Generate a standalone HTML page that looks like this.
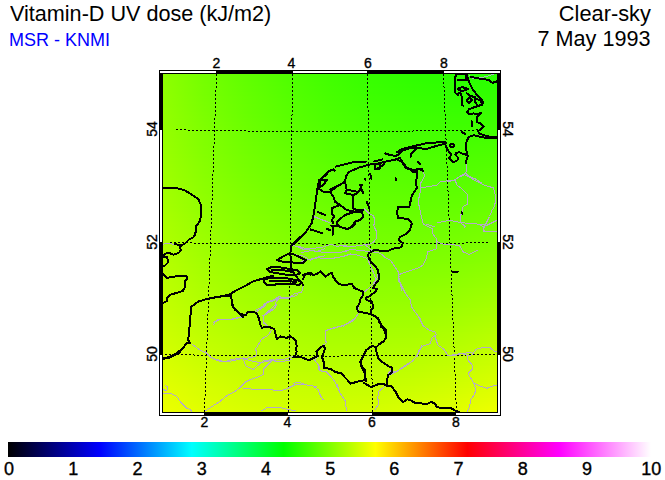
<!DOCTYPE html><html><head><meta charset="utf-8"><style>
*{margin:0;padding:0}
html,body{width:665px;height:480px;background:#fff;overflow:hidden;position:relative;font-family:"Liberation Sans",sans-serif}
.t{position:absolute;white-space:nowrap;line-height:1}
</style></head><body><div class="t" style="left:10px;top:1.5px;font-size:22.7px;color:#000;transform:scaleX(0.952);transform-origin:0 0">Vitamin-D UV dose (kJ/m2)</div><div class="t" style="left:9px;top:31px;font-size:18px;color:#0000ff">MSR - KNMI</div><div class="t" style="right:14px;top:1.5px;font-size:22.7px;color:#000;transform:scaleX(0.96);transform-origin:100% 0">Clear-sky</div><div class="t" style="right:14px;top:27.5px;font-size:22.3px;color:#000;transform:scaleX(0.97);transform-origin:100% 0">7 May 1993</div><div style="position:absolute;left:163px;top:74px;width:334px;height:338px;overflow:hidden"><div style="height:2px;background:linear-gradient(to right,rgb(141,255,0) 0%,rgb(117,255,0) 12%,rgb(96,255,0) 25%,rgb(79,255,0) 38%,rgb(65,255,0) 50%,rgb(54,255,0) 62%,rgb(46,255,0) 75%,rgb(42,255,0) 88%,rgb(41,255,0) 100%)"></div><div style="height:2px;background:linear-gradient(to right,rgb(141,255,0) 0%,rgb(117,255,0) 12%,rgb(97,255,0) 25%,rgb(79,255,0) 38%,rgb(65,255,0) 50%,rgb(54,255,0) 62%,rgb(47,255,0) 75%,rgb(43,255,0) 88%,rgb(42,255,0) 100%)"></div><div style="height:2px;background:linear-gradient(to right,rgb(142,255,0) 0%,rgb(118,255,0) 12%,rgb(97,255,0) 25%,rgb(80,255,0) 38%,rgb(66,255,0) 50%,rgb(55,255,0) 62%,rgb(48,255,0) 75%,rgb(43,255,0) 88%,rgb(43,255,0) 100%)"></div><div style="height:2px;background:linear-gradient(to right,rgb(142,255,0) 0%,rgb(118,255,0) 12%,rgb(97,255,0) 25%,rgb(80,255,0) 38%,rgb(66,255,0) 50%,rgb(56,255,0) 62%,rgb(48,255,0) 75%,rgb(44,255,0) 88%,rgb(44,255,0) 100%)"></div><div style="height:2px;background:linear-gradient(to right,rgb(142,255,0) 0%,rgb(118,255,0) 12%,rgb(98,255,0) 25%,rgb(81,255,0) 38%,rgb(67,255,0) 50%,rgb(56,255,0) 62%,rgb(49,255,0) 75%,rgb(45,255,0) 88%,rgb(44,255,0) 100%)"></div><div style="height:2px;background:linear-gradient(to right,rgb(142,255,0) 0%,rgb(119,255,0) 12%,rgb(98,255,0) 25%,rgb(81,255,0) 38%,rgb(67,255,0) 50%,rgb(57,255,0) 62%,rgb(50,255,0) 75%,rgb(46,255,0) 88%,rgb(45,255,0) 100%)"></div><div style="height:2px;background:linear-gradient(to right,rgb(143,255,0) 0%,rgb(119,255,0) 12%,rgb(99,255,0) 25%,rgb(82,255,0) 38%,rgb(68,255,0) 50%,rgb(57,255,0) 62%,rgb(50,255,0) 75%,rgb(47,255,0) 88%,rgb(46,255,0) 100%)"></div><div style="height:2px;background:linear-gradient(to right,rgb(143,255,0) 0%,rgb(119,255,0) 12%,rgb(99,255,0) 25%,rgb(82,255,0) 38%,rgb(68,255,0) 50%,rgb(58,255,0) 62%,rgb(51,255,0) 75%,rgb(47,255,0) 88%,rgb(47,255,0) 100%)"></div><div style="height:2px;background:linear-gradient(to right,rgb(143,255,0) 0%,rgb(120,255,0) 12%,rgb(99,255,0) 25%,rgb(83,255,0) 38%,rgb(69,255,0) 50%,rgb(59,255,0) 62%,rgb(52,255,0) 75%,rgb(48,255,0) 88%,rgb(48,255,0) 100%)"></div><div style="height:2px;background:linear-gradient(to right,rgb(143,255,0) 0%,rgb(120,255,0) 12%,rgb(100,255,0) 25%,rgb(83,255,0) 38%,rgb(70,255,0) 50%,rgb(59,255,0) 62%,rgb(53,255,0) 75%,rgb(49,255,0) 88%,rgb(49,255,0) 100%)"></div><div style="height:2px;background:linear-gradient(to right,rgb(144,255,0) 0%,rgb(120,255,0) 12%,rgb(100,255,0) 25%,rgb(84,255,0) 38%,rgb(70,255,0) 50%,rgb(60,255,0) 62%,rgb(53,255,0) 75%,rgb(50,255,0) 88%,rgb(50,255,0) 100%)"></div><div style="height:2px;background:linear-gradient(to right,rgb(144,255,0) 0%,rgb(121,255,0) 12%,rgb(101,255,0) 25%,rgb(84,255,0) 38%,rgb(71,255,0) 50%,rgb(61,255,0) 62%,rgb(54,255,0) 75%,rgb(51,255,0) 88%,rgb(51,255,0) 100%)"></div><div style="height:2px;background:linear-gradient(to right,rgb(144,255,0) 0%,rgb(121,255,0) 12%,rgb(101,255,0) 25%,rgb(85,255,0) 38%,rgb(71,255,0) 50%,rgb(61,255,0) 62%,rgb(55,255,0) 75%,rgb(51,255,0) 88%,rgb(51,255,0) 100%)"></div><div style="height:2px;background:linear-gradient(to right,rgb(145,255,0) 0%,rgb(121,255,0) 12%,rgb(102,255,0) 25%,rgb(85,255,0) 38%,rgb(72,255,0) 50%,rgb(62,255,0) 62%,rgb(55,255,0) 75%,rgb(52,255,0) 88%,rgb(52,255,0) 100%)"></div><div style="height:2px;background:linear-gradient(to right,rgb(145,255,0) 0%,rgb(122,255,0) 12%,rgb(102,255,0) 25%,rgb(86,255,0) 38%,rgb(73,255,0) 50%,rgb(63,255,0) 62%,rgb(56,255,0) 75%,rgb(53,255,0) 88%,rgb(53,255,0) 100%)"></div><div style="height:2px;background:linear-gradient(to right,rgb(145,255,0) 0%,rgb(122,255,0) 12%,rgb(103,255,0) 25%,rgb(86,255,0) 38%,rgb(73,255,0) 50%,rgb(63,255,0) 62%,rgb(57,255,0) 75%,rgb(54,255,0) 88%,rgb(54,255,0) 100%)"></div><div style="height:2px;background:linear-gradient(to right,rgb(145,255,0) 0%,rgb(123,255,0) 12%,rgb(103,255,0) 25%,rgb(87,255,0) 38%,rgb(74,255,0) 50%,rgb(64,255,0) 62%,rgb(58,255,0) 75%,rgb(55,255,0) 88%,rgb(55,255,0) 100%)"></div><div style="height:2px;background:linear-gradient(to right,rgb(146,255,0) 0%,rgb(123,255,0) 12%,rgb(103,255,0) 25%,rgb(87,255,0) 38%,rgb(74,255,0) 50%,rgb(65,255,0) 62%,rgb(58,255,0) 75%,rgb(56,255,0) 88%,rgb(56,255,0) 100%)"></div><div style="height:2px;background:linear-gradient(to right,rgb(146,255,0) 0%,rgb(123,255,0) 12%,rgb(104,255,0) 25%,rgb(88,255,0) 38%,rgb(75,255,0) 50%,rgb(65,255,0) 62%,rgb(59,255,0) 75%,rgb(56,255,0) 88%,rgb(57,255,0) 100%)"></div><div style="height:2px;background:linear-gradient(to right,rgb(146,255,0) 0%,rgb(124,255,0) 12%,rgb(104,255,0) 25%,rgb(88,255,0) 38%,rgb(76,255,0) 50%,rgb(66,255,0) 62%,rgb(60,255,0) 75%,rgb(57,255,0) 88%,rgb(58,255,0) 100%)"></div><div style="height:2px;background:linear-gradient(to right,rgb(147,255,0) 0%,rgb(124,255,0) 12%,rgb(105,255,0) 25%,rgb(89,255,0) 38%,rgb(76,255,0) 50%,rgb(67,255,0) 62%,rgb(61,255,0) 75%,rgb(58,255,0) 88%,rgb(59,255,0) 100%)"></div><div style="height:2px;background:linear-gradient(to right,rgb(147,255,0) 0%,rgb(125,255,0) 12%,rgb(105,255,0) 25%,rgb(89,255,0) 38%,rgb(77,255,0) 50%,rgb(68,255,0) 62%,rgb(62,255,0) 75%,rgb(59,255,0) 88%,rgb(60,255,0) 100%)"></div><div style="height:2px;background:linear-gradient(to right,rgb(147,255,0) 0%,rgb(125,255,0) 12%,rgb(106,255,0) 25%,rgb(90,255,0) 38%,rgb(77,255,0) 50%,rgb(68,255,0) 62%,rgb(62,255,0) 75%,rgb(60,255,0) 88%,rgb(61,255,0) 100%)"></div><div style="height:2px;background:linear-gradient(to right,rgb(148,255,0) 0%,rgb(125,255,0) 12%,rgb(106,255,0) 25%,rgb(90,255,0) 38%,rgb(78,255,0) 50%,rgb(69,255,0) 62%,rgb(63,255,0) 75%,rgb(61,255,0) 88%,rgb(61,255,0) 100%)"></div><div style="height:2px;background:linear-gradient(to right,rgb(148,255,0) 0%,rgb(126,255,0) 12%,rgb(107,255,0) 25%,rgb(91,255,0) 38%,rgb(79,255,0) 50%,rgb(70,255,0) 62%,rgb(64,255,0) 75%,rgb(61,255,0) 88%,rgb(62,255,0) 100%)"></div><div style="height:2px;background:linear-gradient(to right,rgb(148,255,0) 0%,rgb(126,255,0) 12%,rgb(107,255,0) 25%,rgb(92,255,0) 38%,rgb(79,255,0) 50%,rgb(70,255,0) 62%,rgb(65,255,0) 75%,rgb(62,255,0) 88%,rgb(63,255,0) 100%)"></div><div style="height:2px;background:linear-gradient(to right,rgb(149,255,0) 0%,rgb(127,255,0) 12%,rgb(108,255,0) 25%,rgb(92,255,0) 38%,rgb(80,255,0) 50%,rgb(71,255,0) 62%,rgb(65,255,0) 75%,rgb(63,255,0) 88%,rgb(64,255,0) 100%)"></div><div style="height:2px;background:linear-gradient(to right,rgb(149,255,0) 0%,rgb(127,255,0) 12%,rgb(108,255,0) 25%,rgb(93,255,0) 38%,rgb(81,255,0) 50%,rgb(72,255,0) 62%,rgb(66,255,0) 75%,rgb(64,255,0) 88%,rgb(65,255,0) 100%)"></div><div style="height:2px;background:linear-gradient(to right,rgb(149,255,0) 0%,rgb(127,255,0) 12%,rgb(109,255,0) 25%,rgb(93,255,0) 38%,rgb(81,255,0) 50%,rgb(73,255,0) 62%,rgb(67,255,0) 75%,rgb(65,255,0) 88%,rgb(66,255,0) 100%)"></div><div style="height:2px;background:linear-gradient(to right,rgb(150,255,0) 0%,rgb(128,255,0) 12%,rgb(109,255,0) 25%,rgb(94,255,0) 38%,rgb(82,255,0) 50%,rgb(73,255,0) 62%,rgb(68,255,0) 75%,rgb(66,255,0) 88%,rgb(67,255,0) 100%)"></div><div style="height:2px;background:linear-gradient(to right,rgb(150,255,0) 0%,rgb(128,255,0) 12%,rgb(110,255,0) 25%,rgb(94,255,0) 38%,rgb(83,255,0) 50%,rgb(74,255,0) 62%,rgb(69,255,0) 75%,rgb(67,255,0) 88%,rgb(68,255,0) 100%)"></div><div style="height:2px;background:linear-gradient(to right,rgb(150,255,0) 0%,rgb(129,255,0) 12%,rgb(110,255,0) 25%,rgb(95,255,0) 38%,rgb(83,255,0) 50%,rgb(75,255,0) 62%,rgb(70,255,0) 75%,rgb(68,255,0) 88%,rgb(69,255,0) 100%)"></div><div style="height:2px;background:linear-gradient(to right,rgb(151,255,0) 0%,rgb(129,255,0) 12%,rgb(111,255,0) 25%,rgb(96,255,0) 38%,rgb(84,255,0) 50%,rgb(75,255,0) 62%,rgb(70,255,0) 75%,rgb(69,255,0) 88%,rgb(70,255,0) 100%)"></div><div style="height:2px;background:linear-gradient(to right,rgb(151,255,0) 0%,rgb(130,255,0) 12%,rgb(111,255,0) 25%,rgb(96,255,0) 38%,rgb(85,255,0) 50%,rgb(76,255,0) 62%,rgb(71,255,0) 75%,rgb(69,255,0) 88%,rgb(71,255,0) 100%)"></div><div style="height:2px;background:linear-gradient(to right,rgb(152,255,0) 0%,rgb(130,255,0) 12%,rgb(112,255,0) 25%,rgb(97,255,0) 38%,rgb(85,255,0) 50%,rgb(77,255,0) 62%,rgb(72,255,0) 75%,rgb(70,255,0) 88%,rgb(72,255,0) 100%)"></div><div style="height:2px;background:linear-gradient(to right,rgb(152,255,0) 0%,rgb(130,255,0) 12%,rgb(112,255,0) 25%,rgb(97,255,0) 38%,rgb(86,255,0) 50%,rgb(78,255,0) 62%,rgb(73,255,0) 75%,rgb(71,255,0) 88%,rgb(73,255,0) 100%)"></div><div style="height:2px;background:linear-gradient(to right,rgb(152,255,0) 0%,rgb(131,255,0) 12%,rgb(113,255,0) 25%,rgb(98,255,0) 38%,rgb(87,255,0) 50%,rgb(78,255,0) 62%,rgb(74,255,0) 75%,rgb(72,255,0) 88%,rgb(74,255,0) 100%)"></div><div style="height:2px;background:linear-gradient(to right,rgb(153,255,0) 0%,rgb(131,255,0) 12%,rgb(113,255,0) 25%,rgb(99,255,0) 38%,rgb(87,255,0) 50%,rgb(79,255,0) 62%,rgb(74,255,0) 75%,rgb(73,255,0) 88%,rgb(75,255,0) 100%)"></div><div style="height:2px;background:linear-gradient(to right,rgb(153,255,0) 0%,rgb(132,255,0) 12%,rgb(114,255,0) 25%,rgb(99,255,0) 38%,rgb(88,255,0) 50%,rgb(80,255,0) 62%,rgb(75,255,0) 75%,rgb(74,255,0) 88%,rgb(76,255,0) 100%)"></div><div style="height:2px;background:linear-gradient(to right,rgb(153,255,0) 0%,rgb(132,255,0) 12%,rgb(114,255,0) 25%,rgb(100,255,0) 38%,rgb(89,255,0) 50%,rgb(81,255,0) 62%,rgb(76,255,0) 75%,rgb(75,255,0) 88%,rgb(77,255,0) 100%)"></div><div style="height:2px;background:linear-gradient(to right,rgb(154,255,0) 0%,rgb(133,255,0) 12%,rgb(115,255,0) 25%,rgb(101,255,0) 38%,rgb(89,255,0) 50%,rgb(82,255,0) 62%,rgb(77,255,0) 75%,rgb(76,255,0) 88%,rgb(78,255,0) 100%)"></div><div style="height:2px;background:linear-gradient(to right,rgb(154,255,0) 0%,rgb(133,255,0) 12%,rgb(116,255,0) 25%,rgb(101,255,0) 38%,rgb(90,255,0) 50%,rgb(82,255,0) 62%,rgb(78,255,0) 75%,rgb(77,255,0) 88%,rgb(79,255,0) 100%)"></div><div style="height:2px;background:linear-gradient(to right,rgb(155,255,0) 0%,rgb(134,255,0) 12%,rgb(116,255,0) 25%,rgb(102,255,0) 38%,rgb(91,255,0) 50%,rgb(83,255,0) 62%,rgb(79,255,0) 75%,rgb(78,255,0) 88%,rgb(80,255,0) 100%)"></div><div style="height:2px;background:linear-gradient(to right,rgb(155,255,0) 0%,rgb(134,255,0) 12%,rgb(117,255,0) 25%,rgb(102,255,0) 38%,rgb(91,255,0) 50%,rgb(84,255,0) 62%,rgb(80,255,0) 75%,rgb(79,255,0) 88%,rgb(81,255,0) 100%)"></div><div style="height:2px;background:linear-gradient(to right,rgb(155,255,0) 0%,rgb(135,255,0) 12%,rgb(117,255,0) 25%,rgb(103,255,0) 38%,rgb(92,255,0) 50%,rgb(85,255,0) 62%,rgb(80,255,0) 75%,rgb(80,255,0) 88%,rgb(82,255,0) 100%)"></div><div style="height:2px;background:linear-gradient(to right,rgb(156,255,0) 0%,rgb(135,255,0) 12%,rgb(118,255,0) 25%,rgb(104,255,0) 38%,rgb(93,255,0) 50%,rgb(85,255,0) 62%,rgb(81,255,0) 75%,rgb(80,255,0) 88%,rgb(83,255,0) 100%)"></div><div style="height:2px;background:linear-gradient(to right,rgb(156,255,0) 0%,rgb(136,255,0) 12%,rgb(118,255,0) 25%,rgb(104,255,0) 38%,rgb(94,255,0) 50%,rgb(86,255,0) 62%,rgb(82,255,0) 75%,rgb(81,255,0) 88%,rgb(84,255,0) 100%)"></div><div style="height:2px;background:linear-gradient(to right,rgb(157,255,0) 0%,rgb(136,255,0) 12%,rgb(119,255,0) 25%,rgb(105,255,0) 38%,rgb(94,255,0) 50%,rgb(87,255,0) 62%,rgb(83,255,0) 75%,rgb(82,255,0) 88%,rgb(85,255,0) 100%)"></div><div style="height:2px;background:linear-gradient(to right,rgb(157,255,0) 0%,rgb(137,255,0) 12%,rgb(119,255,0) 25%,rgb(106,255,0) 38%,rgb(95,255,0) 50%,rgb(88,255,0) 62%,rgb(84,255,0) 75%,rgb(83,255,0) 88%,rgb(86,255,0) 100%)"></div><div style="height:2px;background:linear-gradient(to right,rgb(158,255,0) 0%,rgb(137,255,0) 12%,rgb(120,255,0) 25%,rgb(106,255,0) 38%,rgb(96,255,0) 50%,rgb(89,255,0) 62%,rgb(85,255,0) 75%,rgb(84,255,0) 88%,rgb(87,255,0) 100%)"></div><div style="height:2px;background:linear-gradient(to right,rgb(158,255,0) 0%,rgb(138,255,0) 12%,rgb(121,255,0) 25%,rgb(107,255,0) 38%,rgb(97,255,0) 50%,rgb(89,255,0) 62%,rgb(86,255,0) 75%,rgb(85,255,0) 88%,rgb(88,255,0) 100%)"></div><div style="height:2px;background:linear-gradient(to right,rgb(158,255,0) 0%,rgb(138,255,0) 12%,rgb(121,255,0) 25%,rgb(108,255,0) 38%,rgb(97,255,0) 50%,rgb(90,255,0) 62%,rgb(87,255,0) 75%,rgb(86,255,0) 88%,rgb(89,255,0) 100%)"></div><div style="height:2px;background:linear-gradient(to right,rgb(159,255,0) 0%,rgb(139,255,0) 12%,rgb(122,255,0) 25%,rgb(108,255,0) 38%,rgb(98,255,0) 50%,rgb(91,255,0) 62%,rgb(87,255,0) 75%,rgb(87,255,0) 88%,rgb(90,255,0) 100%)"></div><div style="height:2px;background:linear-gradient(to right,rgb(159,255,0) 0%,rgb(139,255,0) 12%,rgb(122,255,0) 25%,rgb(109,255,0) 38%,rgb(99,255,0) 50%,rgb(92,255,0) 62%,rgb(88,255,0) 75%,rgb(88,255,0) 88%,rgb(91,255,0) 100%)"></div><div style="height:2px;background:linear-gradient(to right,rgb(160,255,0) 0%,rgb(140,255,0) 12%,rgb(123,255,0) 25%,rgb(110,255,0) 38%,rgb(100,255,0) 50%,rgb(93,255,0) 62%,rgb(89,255,0) 75%,rgb(89,255,0) 88%,rgb(92,255,0) 100%)"></div><div style="height:2px;background:linear-gradient(to right,rgb(160,255,0) 0%,rgb(140,255,0) 12%,rgb(124,255,0) 25%,rgb(110,255,0) 38%,rgb(100,255,0) 50%,rgb(94,255,0) 62%,rgb(90,255,0) 75%,rgb(90,255,0) 88%,rgb(93,255,0) 100%)"></div><div style="height:2px;background:linear-gradient(to right,rgb(161,255,0) 0%,rgb(141,255,0) 12%,rgb(124,255,0) 25%,rgb(111,255,0) 38%,rgb(101,255,0) 50%,rgb(94,255,0) 62%,rgb(91,255,0) 75%,rgb(91,255,0) 88%,rgb(94,255,0) 100%)"></div><div style="height:2px;background:linear-gradient(to right,rgb(161,255,0) 0%,rgb(141,255,0) 12%,rgb(125,255,0) 25%,rgb(112,255,0) 38%,rgb(102,255,0) 50%,rgb(95,255,0) 62%,rgb(92,255,0) 75%,rgb(92,255,0) 88%,rgb(95,255,0) 100%)"></div><div style="height:2px;background:linear-gradient(to right,rgb(162,255,0) 0%,rgb(142,255,0) 12%,rgb(125,255,0) 25%,rgb(112,255,0) 38%,rgb(103,255,0) 50%,rgb(96,255,0) 62%,rgb(93,255,0) 75%,rgb(93,255,0) 88%,rgb(97,255,0) 100%)"></div><div style="height:2px;background:linear-gradient(to right,rgb(162,255,0) 0%,rgb(142,255,0) 12%,rgb(126,255,0) 25%,rgb(113,255,0) 38%,rgb(103,255,0) 50%,rgb(97,255,0) 62%,rgb(94,255,0) 75%,rgb(94,255,0) 88%,rgb(98,255,0) 100%)"></div><div style="height:2px;background:linear-gradient(to right,rgb(163,255,0) 0%,rgb(143,255,0) 12%,rgb(127,255,0) 25%,rgb(114,255,0) 38%,rgb(104,255,0) 50%,rgb(98,255,0) 62%,rgb(95,255,0) 75%,rgb(95,255,0) 88%,rgb(99,255,0) 100%)"></div><div style="height:2px;background:linear-gradient(to right,rgb(163,255,0) 0%,rgb(144,255,0) 12%,rgb(127,255,0) 25%,rgb(114,255,0) 38%,rgb(105,255,0) 50%,rgb(99,255,0) 62%,rgb(96,255,0) 75%,rgb(96,255,0) 88%,rgb(100,255,0) 100%)"></div><div style="height:2px;background:linear-gradient(to right,rgb(164,255,0) 0%,rgb(144,255,0) 12%,rgb(128,255,0) 25%,rgb(115,255,0) 38%,rgb(106,255,0) 50%,rgb(99,255,0) 62%,rgb(97,255,0) 75%,rgb(97,255,0) 88%,rgb(101,255,0) 100%)"></div><div style="height:2px;background:linear-gradient(to right,rgb(164,255,0) 0%,rgb(145,255,0) 12%,rgb(129,255,0) 25%,rgb(116,255,0) 38%,rgb(106,255,0) 50%,rgb(100,255,0) 62%,rgb(98,255,0) 75%,rgb(98,255,0) 88%,rgb(102,255,0) 100%)"></div><div style="height:2px;background:linear-gradient(to right,rgb(164,255,0) 0%,rgb(145,255,0) 12%,rgb(129,255,0) 25%,rgb(117,255,0) 38%,rgb(107,255,0) 50%,rgb(101,255,0) 62%,rgb(99,255,0) 75%,rgb(99,255,0) 88%,rgb(103,255,0) 100%)"></div><div style="height:2px;background:linear-gradient(to right,rgb(165,255,0) 0%,rgb(146,255,0) 12%,rgb(130,255,0) 25%,rgb(117,255,0) 38%,rgb(108,255,0) 50%,rgb(102,255,0) 62%,rgb(99,255,0) 75%,rgb(100,255,0) 88%,rgb(104,255,0) 100%)"></div><div style="height:2px;background:linear-gradient(to right,rgb(165,255,0) 0%,rgb(146,255,0) 12%,rgb(131,255,0) 25%,rgb(118,255,0) 38%,rgb(109,255,0) 50%,rgb(103,255,0) 62%,rgb(100,255,0) 75%,rgb(101,255,0) 88%,rgb(105,255,0) 100%)"></div><div style="height:2px;background:linear-gradient(to right,rgb(166,255,0) 0%,rgb(147,255,0) 12%,rgb(131,255,0) 25%,rgb(119,255,0) 38%,rgb(110,255,0) 50%,rgb(104,255,0) 62%,rgb(101,255,0) 75%,rgb(102,255,0) 88%,rgb(106,255,0) 100%)"></div><div style="height:2px;background:linear-gradient(to right,rgb(166,255,0) 0%,rgb(147,255,0) 12%,rgb(132,255,0) 25%,rgb(119,255,0) 38%,rgb(110,255,0) 50%,rgb(105,255,0) 62%,rgb(102,255,0) 75%,rgb(103,255,0) 88%,rgb(107,255,0) 100%)"></div><div style="height:2px;background:linear-gradient(to right,rgb(167,255,0) 0%,rgb(148,255,0) 12%,rgb(132,255,0) 25%,rgb(120,255,0) 38%,rgb(111,255,0) 50%,rgb(106,255,0) 62%,rgb(103,255,0) 75%,rgb(104,255,0) 88%,rgb(109,255,0) 100%)"></div><div style="height:2px;background:linear-gradient(to right,rgb(168,255,0) 0%,rgb(149,255,0) 12%,rgb(133,255,0) 25%,rgb(121,255,0) 38%,rgb(112,255,0) 50%,rgb(106,255,0) 62%,rgb(104,255,0) 75%,rgb(105,255,0) 88%,rgb(110,255,0) 100%)"></div><div style="height:2px;background:linear-gradient(to right,rgb(168,255,0) 0%,rgb(149,255,0) 12%,rgb(134,255,0) 25%,rgb(122,255,0) 38%,rgb(113,255,0) 50%,rgb(107,255,0) 62%,rgb(105,255,0) 75%,rgb(106,255,0) 88%,rgb(111,255,0) 100%)"></div><div style="height:2px;background:linear-gradient(to right,rgb(169,255,0) 0%,rgb(150,255,0) 12%,rgb(134,255,0) 25%,rgb(122,255,0) 38%,rgb(114,255,0) 50%,rgb(108,255,0) 62%,rgb(106,255,0) 75%,rgb(107,255,0) 88%,rgb(112,255,0) 100%)"></div><div style="height:2px;background:linear-gradient(to right,rgb(169,255,0) 0%,rgb(150,255,0) 12%,rgb(135,255,0) 25%,rgb(123,255,0) 38%,rgb(115,255,0) 50%,rgb(109,255,0) 62%,rgb(107,255,0) 75%,rgb(108,255,0) 88%,rgb(113,255,0) 100%)"></div><div style="height:2px;background:linear-gradient(to right,rgb(170,255,0) 0%,rgb(151,255,0) 12%,rgb(136,255,0) 25%,rgb(124,255,0) 38%,rgb(115,255,0) 50%,rgb(110,255,0) 62%,rgb(108,255,0) 75%,rgb(109,255,0) 88%,rgb(114,255,0) 100%)"></div><div style="height:2px;background:linear-gradient(to right,rgb(170,255,0) 0%,rgb(152,255,0) 12%,rgb(137,255,0) 25%,rgb(125,255,0) 38%,rgb(116,255,0) 50%,rgb(111,255,0) 62%,rgb(109,255,0) 75%,rgb(111,255,0) 88%,rgb(115,255,0) 100%)"></div><div style="height:2px;background:linear-gradient(to right,rgb(171,255,0) 0%,rgb(152,255,0) 12%,rgb(137,255,0) 25%,rgb(125,255,0) 38%,rgb(117,255,0) 50%,rgb(112,255,0) 62%,rgb(110,255,0) 75%,rgb(112,255,0) 88%,rgb(116,255,0) 100%)"></div><div style="height:2px;background:linear-gradient(to right,rgb(171,255,0) 0%,rgb(153,255,0) 12%,rgb(138,255,0) 25%,rgb(126,255,0) 38%,rgb(118,255,0) 50%,rgb(113,255,0) 62%,rgb(111,255,0) 75%,rgb(113,255,0) 88%,rgb(118,255,0) 100%)"></div><div style="height:2px;background:linear-gradient(to right,rgb(172,255,0) 0%,rgb(153,255,0) 12%,rgb(139,255,0) 25%,rgb(127,255,0) 38%,rgb(119,255,0) 50%,rgb(114,255,0) 62%,rgb(112,255,0) 75%,rgb(114,255,0) 88%,rgb(119,255,0) 100%)"></div><div style="height:2px;background:linear-gradient(to right,rgb(172,255,0) 0%,rgb(154,255,0) 12%,rgb(139,255,0) 25%,rgb(128,255,0) 38%,rgb(120,255,0) 50%,rgb(115,255,0) 62%,rgb(113,255,0) 75%,rgb(115,255,0) 88%,rgb(120,255,0) 100%)"></div><div style="height:2px;background:linear-gradient(to right,rgb(173,255,0) 0%,rgb(155,255,0) 12%,rgb(140,255,0) 25%,rgb(129,255,0) 38%,rgb(120,255,0) 50%,rgb(116,255,0) 62%,rgb(114,255,0) 75%,rgb(116,255,0) 88%,rgb(121,255,0) 100%)"></div><div style="height:2px;background:linear-gradient(to right,rgb(173,255,0) 0%,rgb(155,255,0) 12%,rgb(141,255,0) 25%,rgb(129,255,0) 38%,rgb(121,255,0) 50%,rgb(117,255,0) 62%,rgb(115,255,0) 75%,rgb(117,255,0) 88%,rgb(122,255,0) 100%)"></div><div style="height:2px;background:linear-gradient(to right,rgb(174,255,0) 0%,rgb(156,255,0) 12%,rgb(141,255,0) 25%,rgb(130,255,0) 38%,rgb(122,255,0) 50%,rgb(117,255,0) 62%,rgb(116,255,0) 75%,rgb(118,255,0) 88%,rgb(123,255,0) 100%)"></div><div style="height:2px;background:linear-gradient(to right,rgb(174,255,0) 0%,rgb(157,255,0) 12%,rgb(142,255,0) 25%,rgb(131,255,0) 38%,rgb(123,255,0) 50%,rgb(118,255,0) 62%,rgb(117,255,0) 75%,rgb(119,255,0) 88%,rgb(125,255,0) 100%)"></div><div style="height:2px;background:linear-gradient(to right,rgb(175,255,0) 0%,rgb(157,255,0) 12%,rgb(143,255,0) 25%,rgb(132,255,0) 38%,rgb(124,255,0) 50%,rgb(119,255,0) 62%,rgb(118,255,0) 75%,rgb(120,255,0) 88%,rgb(126,255,0) 100%)"></div><div style="height:2px;background:linear-gradient(to right,rgb(176,255,0) 0%,rgb(158,255,0) 12%,rgb(144,255,0) 25%,rgb(132,255,0) 38%,rgb(125,255,0) 50%,rgb(120,255,0) 62%,rgb(119,255,0) 75%,rgb(121,255,0) 88%,rgb(127,255,0) 100%)"></div><div style="height:2px;background:linear-gradient(to right,rgb(176,255,0) 0%,rgb(159,255,0) 12%,rgb(144,255,0) 25%,rgb(133,255,0) 38%,rgb(126,255,0) 50%,rgb(121,255,0) 62%,rgb(120,255,0) 75%,rgb(122,255,0) 88%,rgb(128,255,0) 100%)"></div><div style="height:2px;background:linear-gradient(to right,rgb(177,255,0) 0%,rgb(159,255,0) 12%,rgb(145,255,0) 25%,rgb(134,255,0) 38%,rgb(126,255,0) 50%,rgb(122,255,0) 62%,rgb(121,255,0) 75%,rgb(124,255,0) 88%,rgb(129,255,0) 100%)"></div><div style="height:2px;background:linear-gradient(to right,rgb(177,255,0) 0%,rgb(160,255,0) 12%,rgb(146,255,0) 25%,rgb(135,255,0) 38%,rgb(127,255,0) 50%,rgb(123,255,0) 62%,rgb(122,255,0) 75%,rgb(125,255,0) 88%,rgb(130,255,0) 100%)"></div><div style="height:2px;background:linear-gradient(to right,rgb(178,255,0) 0%,rgb(161,255,0) 12%,rgb(146,255,0) 25%,rgb(136,255,0) 38%,rgb(128,255,0) 50%,rgb(124,255,0) 62%,rgb(123,255,0) 75%,rgb(126,255,0) 88%,rgb(132,255,0) 100%)"></div><div style="height:2px;background:linear-gradient(to right,rgb(179,255,0) 0%,rgb(161,255,0) 12%,rgb(147,255,0) 25%,rgb(137,255,0) 38%,rgb(129,255,0) 50%,rgb(125,255,0) 62%,rgb(124,255,0) 75%,rgb(127,255,0) 88%,rgb(133,255,0) 100%)"></div><div style="height:2px;background:linear-gradient(to right,rgb(179,255,0) 0%,rgb(162,255,0) 12%,rgb(148,255,0) 25%,rgb(137,255,0) 38%,rgb(130,255,0) 50%,rgb(126,255,0) 62%,rgb(125,255,0) 75%,rgb(128,255,0) 88%,rgb(134,255,0) 100%)"></div><div style="height:2px;background:linear-gradient(to right,rgb(180,255,0) 0%,rgb(163,255,0) 12%,rgb(149,255,0) 25%,rgb(138,255,0) 38%,rgb(131,255,0) 50%,rgb(127,255,0) 62%,rgb(126,255,0) 75%,rgb(129,255,0) 88%,rgb(135,255,0) 100%)"></div><div style="height:2px;background:linear-gradient(to right,rgb(180,255,0) 0%,rgb(163,255,0) 12%,rgb(149,255,0) 25%,rgb(139,255,0) 38%,rgb(132,255,0) 50%,rgb(128,255,0) 62%,rgb(127,255,0) 75%,rgb(130,255,0) 88%,rgb(136,255,0) 100%)"></div><div style="height:2px;background:linear-gradient(to right,rgb(181,255,0) 0%,rgb(164,255,0) 12%,rgb(150,255,0) 25%,rgb(140,255,0) 38%,rgb(133,255,0) 50%,rgb(129,255,0) 62%,rgb(129,255,0) 75%,rgb(131,255,0) 88%,rgb(138,255,0) 100%)"></div><div style="height:2px;background:linear-gradient(to right,rgb(182,255,0) 0%,rgb(165,255,0) 12%,rgb(151,255,0) 25%,rgb(141,255,0) 38%,rgb(134,255,0) 50%,rgb(130,255,0) 62%,rgb(130,255,0) 75%,rgb(133,255,0) 88%,rgb(139,255,0) 100%)"></div><div style="height:2px;background:linear-gradient(to right,rgb(182,255,0) 0%,rgb(165,255,0) 12%,rgb(152,255,0) 25%,rgb(141,255,0) 38%,rgb(135,255,0) 50%,rgb(131,255,0) 62%,rgb(131,255,0) 75%,rgb(134,255,0) 88%,rgb(140,255,0) 100%)"></div><div style="height:2px;background:linear-gradient(to right,rgb(183,255,0) 0%,rgb(166,255,0) 12%,rgb(152,255,0) 25%,rgb(142,255,0) 38%,rgb(135,255,0) 50%,rgb(132,255,0) 62%,rgb(132,255,0) 75%,rgb(135,255,0) 88%,rgb(141,255,0) 100%)"></div><div style="height:2px;background:linear-gradient(to right,rgb(183,255,0) 0%,rgb(167,255,0) 12%,rgb(153,255,0) 25%,rgb(143,255,0) 38%,rgb(136,255,0) 50%,rgb(133,255,0) 62%,rgb(133,255,0) 75%,rgb(136,255,0) 88%,rgb(142,255,0) 100%)"></div><div style="height:2px;background:linear-gradient(to right,rgb(184,255,0) 0%,rgb(167,255,0) 12%,rgb(154,255,0) 25%,rgb(144,255,0) 38%,rgb(137,255,0) 50%,rgb(134,255,0) 62%,rgb(134,255,0) 75%,rgb(137,255,0) 88%,rgb(144,255,0) 100%)"></div><div style="height:2px;background:linear-gradient(to right,rgb(185,255,0) 0%,rgb(168,255,0) 12%,rgb(155,255,0) 25%,rgb(145,255,0) 38%,rgb(138,255,0) 50%,rgb(135,255,0) 62%,rgb(135,255,0) 75%,rgb(138,255,0) 88%,rgb(145,255,0) 100%)"></div><div style="height:2px;background:linear-gradient(to right,rgb(185,255,0) 0%,rgb(169,255,0) 12%,rgb(156,255,0) 25%,rgb(146,255,0) 38%,rgb(139,255,0) 50%,rgb(136,255,0) 62%,rgb(136,255,0) 75%,rgb(139,255,0) 88%,rgb(146,255,0) 100%)"></div><div style="height:2px;background:linear-gradient(to right,rgb(186,255,0) 0%,rgb(169,255,0) 12%,rgb(156,255,0) 25%,rgb(147,255,0) 38%,rgb(140,255,0) 50%,rgb(137,255,0) 62%,rgb(137,255,0) 75%,rgb(141,255,0) 88%,rgb(147,255,0) 100%)"></div><div style="height:2px;background:linear-gradient(to right,rgb(187,255,0) 0%,rgb(170,255,0) 12%,rgb(157,255,0) 25%,rgb(147,255,0) 38%,rgb(141,255,0) 50%,rgb(138,255,0) 62%,rgb(138,255,0) 75%,rgb(142,255,0) 88%,rgb(149,255,0) 100%)"></div><div style="height:2px;background:linear-gradient(to right,rgb(187,255,0) 0%,rgb(171,255,0) 12%,rgb(158,255,0) 25%,rgb(148,255,0) 38%,rgb(142,255,0) 50%,rgb(139,255,0) 62%,rgb(139,255,0) 75%,rgb(143,255,0) 88%,rgb(150,255,0) 100%)"></div><div style="height:2px;background:linear-gradient(to right,rgb(188,255,0) 0%,rgb(172,255,0) 12%,rgb(159,255,0) 25%,rgb(149,255,0) 38%,rgb(143,255,0) 50%,rgb(140,255,0) 62%,rgb(140,255,0) 75%,rgb(144,255,0) 88%,rgb(151,255,0) 100%)"></div><div style="height:2px;background:linear-gradient(to right,rgb(188,255,0) 0%,rgb(172,255,0) 12%,rgb(160,255,0) 25%,rgb(150,255,0) 38%,rgb(144,255,0) 50%,rgb(141,255,0) 62%,rgb(142,255,0) 75%,rgb(145,255,0) 88%,rgb(152,255,0) 100%)"></div><div style="height:2px;background:linear-gradient(to right,rgb(189,255,0) 0%,rgb(173,255,0) 12%,rgb(160,255,0) 25%,rgb(151,255,0) 38%,rgb(145,255,0) 50%,rgb(142,255,0) 62%,rgb(143,255,0) 75%,rgb(147,255,0) 88%,rgb(154,255,0) 100%)"></div><div style="height:2px;background:linear-gradient(to right,rgb(190,255,0) 0%,rgb(174,255,0) 12%,rgb(161,255,0) 25%,rgb(152,255,0) 38%,rgb(146,255,0) 50%,rgb(143,255,0) 62%,rgb(144,255,0) 75%,rgb(148,255,0) 88%,rgb(155,255,0) 100%)"></div><div style="height:2px;background:linear-gradient(to right,rgb(190,255,0) 0%,rgb(175,255,0) 12%,rgb(162,255,0) 25%,rgb(153,255,0) 38%,rgb(147,255,0) 50%,rgb(144,255,0) 62%,rgb(145,255,0) 75%,rgb(149,255,0) 88%,rgb(156,255,0) 100%)"></div><div style="height:2px;background:linear-gradient(to right,rgb(191,255,0) 0%,rgb(175,255,0) 12%,rgb(163,255,0) 25%,rgb(154,255,0) 38%,rgb(148,255,0) 50%,rgb(145,255,0) 62%,rgb(146,255,0) 75%,rgb(150,255,0) 88%,rgb(157,255,0) 100%)"></div><div style="height:2px;background:linear-gradient(to right,rgb(192,255,0) 0%,rgb(176,255,0) 12%,rgb(164,255,0) 25%,rgb(155,255,0) 38%,rgb(149,255,0) 50%,rgb(146,255,0) 62%,rgb(147,255,0) 75%,rgb(151,255,0) 88%,rgb(159,255,0) 100%)"></div><div style="height:2px;background:linear-gradient(to right,rgb(192,255,0) 0%,rgb(177,255,0) 12%,rgb(164,255,0) 25%,rgb(155,255,0) 38%,rgb(150,255,0) 50%,rgb(147,255,0) 62%,rgb(148,255,0) 75%,rgb(152,255,0) 88%,rgb(160,255,0) 100%)"></div><div style="height:2px;background:linear-gradient(to right,rgb(193,255,0) 0%,rgb(178,255,0) 12%,rgb(165,255,0) 25%,rgb(156,255,0) 38%,rgb(151,255,0) 50%,rgb(148,255,0) 62%,rgb(149,255,0) 75%,rgb(154,255,0) 88%,rgb(161,255,0) 100%)"></div><div style="height:2px;background:linear-gradient(to right,rgb(194,255,0) 0%,rgb(178,255,0) 12%,rgb(166,255,0) 25%,rgb(157,255,0) 38%,rgb(152,255,0) 50%,rgb(149,255,0) 62%,rgb(151,255,0) 75%,rgb(155,255,0) 88%,rgb(163,255,0) 100%)"></div><div style="height:2px;background:linear-gradient(to right,rgb(195,255,0) 0%,rgb(179,255,0) 12%,rgb(167,255,0) 25%,rgb(158,255,0) 38%,rgb(153,255,0) 50%,rgb(151,255,0) 62%,rgb(152,255,0) 75%,rgb(156,255,0) 88%,rgb(164,255,0) 100%)"></div><div style="height:2px;background:linear-gradient(to right,rgb(195,255,0) 0%,rgb(180,255,0) 12%,rgb(168,255,0) 25%,rgb(159,255,0) 38%,rgb(154,255,0) 50%,rgb(152,255,0) 62%,rgb(153,255,0) 75%,rgb(157,255,0) 88%,rgb(165,255,0) 100%)"></div><div style="height:2px;background:linear-gradient(to right,rgb(196,255,0) 0%,rgb(181,255,0) 12%,rgb(169,255,0) 25%,rgb(160,255,0) 38%,rgb(155,255,0) 50%,rgb(153,255,0) 62%,rgb(154,255,0) 75%,rgb(159,255,0) 88%,rgb(167,255,0) 100%)"></div><div style="height:2px;background:linear-gradient(to right,rgb(197,255,0) 0%,rgb(181,255,0) 12%,rgb(169,255,0) 25%,rgb(161,255,0) 38%,rgb(156,255,0) 50%,rgb(154,255,0) 62%,rgb(155,255,0) 75%,rgb(160,255,0) 88%,rgb(168,255,0) 100%)"></div><div style="height:2px;background:linear-gradient(to right,rgb(197,255,0) 0%,rgb(182,255,0) 12%,rgb(170,255,0) 25%,rgb(162,255,0) 38%,rgb(157,255,0) 50%,rgb(155,255,0) 62%,rgb(156,255,0) 75%,rgb(161,255,0) 88%,rgb(169,255,0) 100%)"></div><div style="height:2px;background:linear-gradient(to right,rgb(198,255,0) 0%,rgb(183,255,0) 12%,rgb(171,255,0) 25%,rgb(163,255,0) 38%,rgb(158,255,0) 50%,rgb(156,255,0) 62%,rgb(157,255,0) 75%,rgb(162,255,0) 88%,rgb(170,255,0) 100%)"></div><div style="height:2px;background:linear-gradient(to right,rgb(199,255,0) 0%,rgb(184,255,0) 12%,rgb(172,255,0) 25%,rgb(164,255,0) 38%,rgb(159,255,0) 50%,rgb(157,255,0) 62%,rgb(159,255,0) 75%,rgb(164,255,0) 88%,rgb(172,255,0) 100%)"></div><div style="height:2px;background:linear-gradient(to right,rgb(199,255,0) 0%,rgb(185,255,0) 12%,rgb(173,255,0) 25%,rgb(165,255,0) 38%,rgb(160,255,0) 50%,rgb(158,255,0) 62%,rgb(160,255,0) 75%,rgb(165,255,0) 88%,rgb(173,255,0) 100%)"></div><div style="height:2px;background:linear-gradient(to right,rgb(200,255,0) 0%,rgb(185,255,0) 12%,rgb(174,255,0) 25%,rgb(166,255,0) 38%,rgb(161,255,0) 50%,rgb(159,255,0) 62%,rgb(161,255,0) 75%,rgb(166,255,0) 88%,rgb(174,255,0) 100%)"></div><div style="height:2px;background:linear-gradient(to right,rgb(201,255,0) 0%,rgb(186,255,0) 12%,rgb(175,255,0) 25%,rgb(167,255,0) 38%,rgb(162,255,0) 50%,rgb(160,255,0) 62%,rgb(162,255,0) 75%,rgb(167,255,0) 88%,rgb(176,255,0) 100%)"></div><div style="height:2px;background:linear-gradient(to right,rgb(202,255,0) 0%,rgb(187,255,0) 12%,rgb(176,255,0) 25%,rgb(168,255,0) 38%,rgb(163,255,0) 50%,rgb(161,255,0) 62%,rgb(163,255,0) 75%,rgb(168,255,0) 88%,rgb(177,255,0) 100%)"></div><div style="height:2px;background:linear-gradient(to right,rgb(202,255,0) 0%,rgb(188,255,0) 12%,rgb(176,255,0) 25%,rgb(168,255,0) 38%,rgb(164,255,0) 50%,rgb(162,255,0) 62%,rgb(164,255,0) 75%,rgb(170,255,0) 88%,rgb(178,255,0) 100%)"></div><div style="height:2px;background:linear-gradient(to right,rgb(203,255,0) 0%,rgb(189,255,0) 12%,rgb(177,255,0) 25%,rgb(169,255,0) 38%,rgb(165,255,0) 50%,rgb(164,255,0) 62%,rgb(166,255,0) 75%,rgb(171,255,0) 88%,rgb(180,255,0) 100%)"></div><div style="height:2px;background:linear-gradient(to right,rgb(204,255,0) 0%,rgb(189,255,0) 12%,rgb(178,255,0) 25%,rgb(170,255,0) 38%,rgb(166,255,0) 50%,rgb(165,255,0) 62%,rgb(167,255,0) 75%,rgb(172,255,0) 88%,rgb(181,255,0) 100%)"></div><div style="height:2px;background:linear-gradient(to right,rgb(205,255,0) 0%,rgb(190,255,0) 12%,rgb(179,255,0) 25%,rgb(171,255,0) 38%,rgb(167,255,0) 50%,rgb(166,255,0) 62%,rgb(168,255,0) 75%,rgb(174,255,0) 88%,rgb(182,255,0) 100%)"></div><div style="height:2px;background:linear-gradient(to right,rgb(205,255,0) 0%,rgb(191,255,0) 12%,rgb(180,255,0) 25%,rgb(172,255,0) 38%,rgb(168,255,0) 50%,rgb(167,255,0) 62%,rgb(169,255,0) 75%,rgb(175,255,0) 88%,rgb(184,255,0) 100%)"></div><div style="height:2px;background:linear-gradient(to right,rgb(206,255,0) 0%,rgb(192,255,0) 12%,rgb(181,255,0) 25%,rgb(173,255,0) 38%,rgb(169,255,0) 50%,rgb(168,255,0) 62%,rgb(170,255,0) 75%,rgb(176,255,0) 88%,rgb(185,255,0) 100%)"></div><div style="height:2px;background:linear-gradient(to right,rgb(207,255,0) 0%,rgb(193,255,0) 12%,rgb(182,255,0) 25%,rgb(174,255,0) 38%,rgb(170,255,0) 50%,rgb(169,255,0) 62%,rgb(172,255,0) 75%,rgb(177,255,0) 88%,rgb(186,255,0) 100%)"></div><div style="height:2px;background:linear-gradient(to right,rgb(208,255,0) 0%,rgb(193,255,0) 12%,rgb(183,255,0) 25%,rgb(175,255,0) 38%,rgb(171,255,0) 50%,rgb(170,255,0) 62%,rgb(173,255,0) 75%,rgb(179,255,0) 88%,rgb(188,255,0) 100%)"></div><div style="height:2px;background:linear-gradient(to right,rgb(208,255,0) 0%,rgb(194,255,0) 12%,rgb(184,255,0) 25%,rgb(176,255,0) 38%,rgb(172,255,0) 50%,rgb(171,255,0) 62%,rgb(174,255,0) 75%,rgb(180,255,0) 88%,rgb(189,255,0) 100%)"></div><div style="height:2px;background:linear-gradient(to right,rgb(209,255,0) 0%,rgb(195,255,0) 12%,rgb(185,255,0) 25%,rgb(177,255,0) 38%,rgb(173,255,0) 50%,rgb(173,255,0) 62%,rgb(175,255,0) 75%,rgb(181,255,0) 88%,rgb(191,255,0) 100%)"></div><div style="height:2px;background:linear-gradient(to right,rgb(210,255,0) 0%,rgb(196,255,0) 12%,rgb(185,255,0) 25%,rgb(178,255,0) 38%,rgb(174,255,0) 50%,rgb(174,255,0) 62%,rgb(176,255,0) 75%,rgb(183,255,0) 88%,rgb(192,255,0) 100%)"></div><div style="height:2px;background:linear-gradient(to right,rgb(211,255,0) 0%,rgb(197,255,0) 12%,rgb(186,255,0) 25%,rgb(179,255,0) 38%,rgb(175,255,0) 50%,rgb(175,255,0) 62%,rgb(178,255,0) 75%,rgb(184,255,0) 88%,rgb(193,255,0) 100%)"></div><div style="height:2px;background:linear-gradient(to right,rgb(211,255,0) 0%,rgb(198,255,0) 12%,rgb(187,255,0) 25%,rgb(180,255,0) 38%,rgb(176,255,0) 50%,rgb(176,255,0) 62%,rgb(179,255,0) 75%,rgb(185,255,0) 88%,rgb(195,255,0) 100%)"></div><div style="height:2px;background:linear-gradient(to right,rgb(212,255,0) 0%,rgb(199,255,0) 12%,rgb(188,255,0) 25%,rgb(181,255,0) 38%,rgb(178,255,0) 50%,rgb(177,255,0) 62%,rgb(180,255,0) 75%,rgb(186,255,0) 88%,rgb(196,255,0) 100%)"></div><div style="height:2px;background:linear-gradient(to right,rgb(213,255,0) 0%,rgb(199,255,0) 12%,rgb(189,255,0) 25%,rgb(182,255,0) 38%,rgb(179,255,0) 50%,rgb(178,255,0) 62%,rgb(181,255,0) 75%,rgb(188,255,0) 88%,rgb(197,255,0) 100%)"></div><div style="height:2px;background:linear-gradient(to right,rgb(214,255,0) 0%,rgb(200,255,0) 12%,rgb(190,255,0) 25%,rgb(183,255,0) 38%,rgb(180,255,0) 50%,rgb(180,255,0) 62%,rgb(183,255,0) 75%,rgb(189,255,0) 88%,rgb(199,255,0) 100%)"></div><div style="height:2px;background:linear-gradient(to right,rgb(215,255,0) 0%,rgb(201,255,0) 12%,rgb(191,255,0) 25%,rgb(184,255,0) 38%,rgb(181,255,0) 50%,rgb(181,255,0) 62%,rgb(184,255,0) 75%,rgb(190,255,0) 88%,rgb(200,255,0) 100%)"></div><div style="height:2px;background:linear-gradient(to right,rgb(215,255,0) 0%,rgb(202,255,0) 12%,rgb(192,255,0) 25%,rgb(185,255,0) 38%,rgb(182,255,0) 50%,rgb(182,255,0) 62%,rgb(185,255,0) 75%,rgb(192,255,0) 88%,rgb(202,255,0) 100%)"></div><div style="height:2px;background:linear-gradient(to right,rgb(216,255,0) 0%,rgb(203,255,0) 12%,rgb(193,255,0) 25%,rgb(186,255,0) 38%,rgb(183,255,0) 50%,rgb(183,255,0) 62%,rgb(186,255,0) 75%,rgb(193,255,0) 88%,rgb(203,255,0) 100%)"></div><div style="height:2px;background:linear-gradient(to right,rgb(217,255,0) 0%,rgb(204,255,0) 12%,rgb(194,255,0) 25%,rgb(187,255,0) 38%,rgb(184,255,0) 50%,rgb(184,255,0) 62%,rgb(188,255,0) 75%,rgb(194,255,0) 88%,rgb(204,255,0) 100%)"></div><div style="height:2px;background:linear-gradient(to right,rgb(218,255,0) 0%,rgb(205,255,0) 12%,rgb(195,255,0) 25%,rgb(188,255,0) 38%,rgb(185,255,0) 50%,rgb(185,255,0) 62%,rgb(189,255,0) 75%,rgb(196,255,0) 88%,rgb(206,255,0) 100%)"></div><div style="height:2px;background:linear-gradient(to right,rgb(219,255,0) 0%,rgb(206,255,0) 12%,rgb(196,255,0) 25%,rgb(189,255,0) 38%,rgb(186,255,0) 50%,rgb(187,255,0) 62%,rgb(190,255,0) 75%,rgb(197,255,0) 88%,rgb(207,255,0) 100%)"></div><div style="height:2px;background:linear-gradient(to right,rgb(219,255,0) 0%,rgb(206,255,0) 12%,rgb(197,255,0) 25%,rgb(190,255,0) 38%,rgb(187,255,0) 50%,rgb(188,255,0) 62%,rgb(191,255,0) 75%,rgb(198,255,0) 88%,rgb(209,255,0) 100%)"></div><div style="height:2px;background:linear-gradient(to right,rgb(220,255,0) 0%,rgb(207,255,0) 12%,rgb(198,255,0) 25%,rgb(192,255,0) 38%,rgb(189,255,0) 50%,rgb(189,255,0) 62%,rgb(193,255,0) 75%,rgb(200,255,0) 88%,rgb(210,255,0) 100%)"></div><div style="height:2px;background:linear-gradient(to right,rgb(221,255,0) 0%,rgb(208,255,0) 12%,rgb(199,255,0) 25%,rgb(193,255,0) 38%,rgb(190,255,0) 50%,rgb(190,255,0) 62%,rgb(194,255,0) 75%,rgb(201,255,0) 88%,rgb(212,255,0) 100%)"></div><div style="height:2px;background:linear-gradient(to right,rgb(222,255,0) 0%,rgb(209,255,0) 12%,rgb(200,255,0) 25%,rgb(194,255,0) 38%,rgb(191,255,0) 50%,rgb(191,255,0) 62%,rgb(195,255,0) 75%,rgb(202,255,0) 88%,rgb(213,255,0) 100%)"></div><div style="height:2px;background:linear-gradient(to right,rgb(223,255,0) 0%,rgb(210,255,0) 12%,rgb(201,255,0) 25%,rgb(195,255,0) 38%,rgb(192,255,0) 50%,rgb(193,255,0) 62%,rgb(197,255,0) 75%,rgb(204,255,0) 88%,rgb(214,255,0) 100%)"></div><div style="height:2px;background:linear-gradient(to right,rgb(223,255,0) 0%,rgb(211,255,0) 12%,rgb(202,255,0) 25%,rgb(196,255,0) 38%,rgb(193,255,0) 50%,rgb(194,255,0) 62%,rgb(198,255,0) 75%,rgb(205,255,0) 88%,rgb(216,255,0) 100%)"></div><div style="height:2px;background:linear-gradient(to right,rgb(224,255,0) 0%,rgb(212,255,0) 12%,rgb(203,255,0) 25%,rgb(197,255,0) 38%,rgb(194,255,0) 50%,rgb(195,255,0) 62%,rgb(199,255,0) 75%,rgb(207,255,0) 88%,rgb(217,255,0) 100%)"></div><div style="height:2px;background:linear-gradient(to right,rgb(225,255,0) 0%,rgb(213,255,0) 12%,rgb(204,255,0) 25%,rgb(198,255,0) 38%,rgb(195,255,0) 50%,rgb(196,255,0) 62%,rgb(200,255,0) 75%,rgb(208,255,0) 88%,rgb(219,255,0) 100%)"></div><div style="height:2px;background:linear-gradient(to right,rgb(226,255,0) 0%,rgb(214,255,0) 12%,rgb(205,255,0) 25%,rgb(199,255,0) 38%,rgb(197,255,0) 50%,rgb(197,255,0) 62%,rgb(202,255,0) 75%,rgb(209,255,0) 88%,rgb(220,255,0) 100%)"></div><div style="height:2px;background:linear-gradient(to right,rgb(227,255,0) 0%,rgb(215,255,0) 12%,rgb(206,255,0) 25%,rgb(200,255,0) 38%,rgb(198,255,0) 50%,rgb(199,255,0) 62%,rgb(203,255,0) 75%,rgb(211,255,0) 88%,rgb(222,255,0) 100%)"></div><div style="height:2px;background:linear-gradient(to right,rgb(228,255,0) 0%,rgb(216,255,0) 12%,rgb(207,255,0) 25%,rgb(201,255,0) 38%,rgb(199,255,0) 50%,rgb(200,255,0) 62%,rgb(204,255,0) 75%,rgb(212,255,0) 88%,rgb(223,255,0) 100%)"></div><div style="height:2px;background:linear-gradient(to right,rgb(229,255,0) 0%,rgb(216,255,0) 12%,rgb(208,255,0) 25%,rgb(202,255,0) 38%,rgb(200,255,0) 50%,rgb(201,255,0) 62%,rgb(206,255,0) 75%,rgb(213,255,0) 88%,rgb(225,255,0) 100%)"></div><div style="height:2px;background:linear-gradient(to right,rgb(229,255,0) 0%,rgb(217,255,0) 12%,rgb(209,255,0) 25%,rgb(203,255,0) 38%,rgb(201,255,0) 50%,rgb(202,255,0) 62%,rgb(207,255,0) 75%,rgb(215,255,0) 88%,rgb(226,255,0) 100%)"></div><div style="height:2px;background:linear-gradient(to right,rgb(230,255,0) 0%,rgb(218,255,0) 12%,rgb(210,255,0) 25%,rgb(204,255,0) 38%,rgb(202,255,0) 50%,rgb(204,255,0) 62%,rgb(208,255,0) 75%,rgb(216,255,0) 88%,rgb(227,255,0) 100%)"></div><div style="height:2px;background:linear-gradient(to right,rgb(231,255,0) 0%,rgb(219,255,0) 12%,rgb(211,255,0) 25%,rgb(205,255,0) 38%,rgb(204,255,0) 50%,rgb(205,255,0) 62%,rgb(210,255,0) 75%,rgb(218,255,0) 88%,rgb(229,255,0) 100%)"></div><div style="height:2px;background:linear-gradient(to right,rgb(232,255,0) 0%,rgb(220,255,0) 12%,rgb(212,255,0) 25%,rgb(207,255,0) 38%,rgb(205,255,0) 50%,rgb(206,255,0) 62%,rgb(211,255,0) 75%,rgb(219,255,0) 88%,rgb(230,255,0) 100%)"></div><div style="height:2px;background:linear-gradient(to right,rgb(233,255,0) 0%,rgb(221,255,0) 12%,rgb(213,255,0) 25%,rgb(208,255,0) 38%,rgb(206,255,0) 50%,rgb(207,255,0) 62%,rgb(212,255,0) 75%,rgb(220,255,0) 88%,rgb(232,255,0) 100%)"></div><div style="height:2px;background:linear-gradient(to right,rgb(234,255,0) 0%,rgb(222,255,0) 12%,rgb(214,255,0) 25%,rgb(209,255,0) 38%,rgb(207,255,0) 50%,rgb(209,255,0) 62%,rgb(214,255,0) 75%,rgb(222,255,0) 88%,rgb(233,255,0) 100%)"></div><div style="height:2px;background:linear-gradient(to right,rgb(235,255,0) 0%,rgb(223,255,0) 12%,rgb(215,255,0) 25%,rgb(210,255,0) 38%,rgb(208,255,0) 50%,rgb(210,255,0) 62%,rgb(215,255,0) 75%,rgb(223,255,0) 88%,rgb(235,255,0) 100%)"></div><div style="height:2px;background:linear-gradient(to right,rgb(236,255,0) 0%,rgb(224,255,0) 12%,rgb(216,255,0) 25%,rgb(211,255,0) 38%,rgb(209,255,0) 50%,rgb(211,255,0) 62%,rgb(216,255,0) 75%,rgb(225,255,0) 88%,rgb(236,255,0) 100%)"></div><div style="height:2px;background:linear-gradient(to right,rgb(236,255,0) 0%,rgb(225,255,0) 12%,rgb(217,255,0) 25%,rgb(212,255,0) 38%,rgb(211,255,0) 50%,rgb(212,255,0) 62%,rgb(218,255,0) 75%,rgb(226,255,0) 88%,rgb(238,255,0) 100%)"></div></div><svg width="665" height="480" viewBox="0 0 665 480" style="position:absolute;left:0;top:0"><defs><clipPath id="mc"><rect x="163" y="74" width="334" height="338"/></clipPath></defs><g fill="none" stroke="#000" stroke-width="1" stroke-dasharray="2 2" shape-rendering="crispEdges"><line x1="216.5" y1="74" x2="204.5" y2="412"/><line x1="292.5" y1="74" x2="288.5" y2="412"/><line x1="367.5" y1="74" x2="372.5" y2="412"/><line x1="443.5" y1="74" x2="456.5" y2="412"/><polyline points="176.0,129.80 183.6,129.96 191.1,130.12 198.7,130.26 206.2,130.40 213.8,130.53 221.3,130.65 228.8,130.77 236.4,130.87 243.9,130.97 251.5,131.06 259.1,131.14 266.6,131.21 274.1,131.28 281.7,131.33 289.2,131.38 296.8,131.42 304.4,131.45 311.9,131.48 319.4,131.49 327.0,131.50 334.6,131.50 342.1,131.49 349.6,131.47 357.2,131.45 364.8,131.41 372.3,131.37 379.9,131.32 387.4,131.26 394.9,131.20 402.5,131.12 410.1,131.04 417.6,130.95 425.1,130.85 432.7,130.74 440.2,130.63 447.8,130.50 455.4,130.37 462.9,130.23 470.4,130.09 478.0,129.93"/><polyline points="170.0,242.62 178.0,242.76 186.0,242.88 194.0,243.01 202.0,243.12 210.0,243.23 218.0,243.33 226.0,243.42 234.0,243.50 242.0,243.58 250.0,243.66 258.0,243.72 266.0,243.78 274.0,243.83 282.0,243.88 290.0,243.91 298.0,243.94 306.0,243.97 314.0,243.99 322.0,244.00 330.0,244.00 338.0,244.00 346.0,243.99 354.0,243.97 362.0,243.94 370.0,243.91 378.0,243.88 386.0,243.83 394.0,243.78 402.0,243.72 410.0,243.66 418.0,243.58 426.0,243.50 434.0,243.42 442.0,243.33 450.0,243.23 458.0,243.12 466.0,243.01 474.0,242.88 482.0,242.76 490.0,242.62"/><polyline points="165.0,354.54 173.3,354.68 181.6,354.82 189.9,354.94 198.2,355.07 206.5,355.18 214.8,355.29 223.1,355.39 231.4,355.48 239.7,355.56 248.0,355.64 256.3,355.71 264.6,355.77 272.9,355.82 281.2,355.87 289.5,355.91 297.8,355.94 306.1,355.97 314.4,355.99 322.7,356.00 331.0,356.00 339.3,356.00 347.6,355.98 355.9,355.96 364.2,355.94 372.5,355.90 380.8,355.86 389.1,355.81 397.4,355.76 405.7,355.69 414.0,355.62 422.3,355.54 430.6,355.46 438.9,355.36 447.2,355.26 455.5,355.15 463.8,355.04 472.1,354.91 480.4,354.78 488.7,354.65 497.0,354.50"/></g><g clip-path="url(#mc)" stroke-linejoin="round" stroke-linecap="round"><path d="M163.0,244.1 L167.2,243.6 L170.3,243.6 L174.5,244.5" stroke="#b4aac8" stroke-width="1" shape-rendering="crispEdges" fill="none"/><path d="M192.2,344.2 L199.7,350.0 L206.3,353.3 L213.0,358.3 L224.7,361.7 L233.0,359.2 L243.0,358.3" stroke="#b4aac8" stroke-width="1" shape-rendering="crispEdges" fill="none"/><path d="M213.8,325.0 L214.7,321.7 L221.3,319.2 L229.7,320.0 L236.3,318.3 L243.0,316.7" stroke="#b4aac8" stroke-width="1" shape-rendering="crispEdges" fill="none"/><path d="M213.0,322.8 L219.2,319.0 L231.8,319.0 L241.8,316.5 L246.8,312.8" stroke="#b4aac8" stroke-width="1" shape-rendering="crispEdges" fill="none"/><path d="M256.8,311.5 L264.2,306.5 L268.0,301.5 L273.0,300.2" stroke="#b4aac8" stroke-width="1" shape-rendering="crispEdges" fill="none"/><path d="M263.0,324.0 L263.0,316.5 L268.0,312.8 L273.0,309.0" stroke="#b4aac8" stroke-width="1" shape-rendering="crispEdges" fill="none"/><path d="M292.9,245.7 L301.6,247.1 L310.4,250.0 L316.2,251.5 L325.0,248.6" stroke="#b4aac8" stroke-width="1" shape-rendering="crispEdges" fill="none"/><path d="M292.9,254.4 L303.1,255.9 L310.4,260.2 L316.2,257.3 L325.0,255.9" stroke="#b4aac8" stroke-width="1" shape-rendering="crispEdges" fill="none"/><path d="M298.7,263.2 L304.6,260.2" stroke="#b4aac8" stroke-width="1" shape-rendering="crispEdges" fill="none"/><path d="M303.1,286.5 L301.6,292.3 L294.4,293.8 L288.5,298.1 L279.8,298.1 L272.5,301.0 L266.7,302.5" stroke="#b4aac8" stroke-width="1" shape-rendering="crispEdges" fill="none"/><path d="M364.5,209.0 L368.7,213.2 L372.8,215.2 L375.0,219.4 L373.9,225.7 L376.0,230.9" stroke="#b4aac8" stroke-width="1" shape-rendering="crispEdges" fill="none"/><path d="M313.7,217.0 L321.0,219.2 L327.2,221.3 L330.3,223.4" stroke="#b4aac8" stroke-width="1" shape-rendering="crispEdges" fill="none"/><path d="M314.7,216.7 L322.0,219.8 L328.2,222.0" stroke="#b4aac8" stroke-width="1" shape-rendering="crispEdges" fill="none"/><path d="M297.0,246.3 L303.2,249.4 L312.6,248.4 L322.0,247.3 L331.4,244.2 L336.6,246.3 L347.0,245.2" stroke="#b4aac8" stroke-width="1" shape-rendering="crispEdges" fill="none"/><path d="M301.2,252.5 L311.6,250.5 L324.0,252.5 L336.6,252.5 L347.0,251.5" stroke="#b4aac8" stroke-width="1" shape-rendering="crispEdges" fill="none"/><path d="M307.4,259.8 L317.8,257.8 L326.2,258.8 L336.6,257.8 L344.9,255.7" stroke="#b4aac8" stroke-width="1" shape-rendering="crispEdges" fill="none"/><path d="M465.8,162.0 L466.8,167.3 L465.8,173.6 L462.6,175.7 L457.4,177.8 L455.3,179.8 L447.0,181.9" stroke="#b4aac8" stroke-width="1" shape-rendering="crispEdges" fill="none"/><path d="M465.8,173.6 L469.9,176.7 L475.1,178.8 L481.4,183.0" stroke="#b4aac8" stroke-width="1" shape-rendering="crispEdges" fill="none"/><path d="M455.3,179.8 L456.4,184.0" stroke="#b4aac8" stroke-width="1" shape-rendering="crispEdges" fill="none"/><path d="M469.3,75.5 L472.2,78.4 L485.3,76.9 L494.0,74.0" stroke="#b4aac8" stroke-width="1" shape-rendering="crispEdges" fill="none"/><path d="M373.0,224.0 L376.8,231.5 L376.8,237.8 L374.2,241.5 L370.5,244.0 L361.8,245.2 L353.0,246.5 L343.0,246.5" stroke="#b4aac8" stroke-width="1" shape-rendering="crispEdges" fill="none"/><path d="M343.0,251.5 L350.5,249.6 L359.2,250.2 L368.0,251.5 L374.2,252.1 L380.5,253.4 L385.5,257.8 L390.5,260.2 L393.0,264.0 L395.5,267.8 L398.0,271.5 L399.2,276.5 L398.0,280.2 L400.5,284.0 L401.8,290.2" stroke="#b4aac8" stroke-width="1" shape-rendering="crispEdges" fill="none"/><path d="M343.0,256.5 L350.5,254.0 L358.0,255.2 L365.5,257.8 L368.0,260.2 L371.8,269.0 L374.2,274.0 L375.5,279.0 L374.2,284.0" stroke="#b4aac8" stroke-width="1" shape-rendering="crispEdges" fill="none"/><path d="M365.5,245.2 L371.8,250.2" stroke="#b4aac8" stroke-width="1" shape-rendering="crispEdges" fill="none"/><path d="M423.2,170.2 L424.5,176.5 L420.8,182.8 L420.8,189.0 L419.5,195.2 L418.2,201.5 L419.5,207.8 L420.8,214.0 L423.2,224.0 L432.0,228.4 L432.0,232.8 L436.4,238.6 L436.4,248.8 L427.6,251.7 L426.2,259.0 L423.2,264.8 L418.9,267.8 L410.1,270.7 L401.4,273.6 L398.5,275.0 L399.9,282.3 L402.8,288.2 L405.8,294.0 L410.1,299.7 L411.6,307.0 L418.9,317.2 L423.2,325.9 L429.1,330.3 L434.9,331.8 L436.4,334.7 L432.0,337.6 L430.5,343.4 L421.8,346.3 L418.9,350.7 L417.4,356.5" stroke="#b4aac8" stroke-width="1" shape-rendering="crispEdges" fill="none"/><path d="M420.8,187.8 L429.5,186.5 L437.0,185.2 L440.8,181.5 L454.5,180.2 L459.5,176.5 L464.5,174.0" stroke="#b4aac8" stroke-width="1" shape-rendering="crispEdges" fill="none"/><path d="M454.5,180.2 L457.0,185.2 L462.0,189.0 L467.0,194.0 L467.0,201.5 L468.2,204.0 L463.2,206.5 L462.0,211.5 L460.8,215.2 L460.8,222.8 L463.2,225.2 L465.8,226.5" stroke="#b4aac8" stroke-width="1" shape-rendering="crispEdges" fill="none"/><path d="M465.8,175.2 L474.5,180.2 L484.5,185.2 L493.2,187.8 L494.5,191.5 L495.8,199.0 L494.5,206.5 L492.0,210.2 L489.5,216.5 L485.8,224.0 L483.2,229.0 L485.8,231.5 L497.0,231.5" stroke="#b4aac8" stroke-width="1" shape-rendering="crispEdges" fill="none"/><path d="M437.0,222.8 L449.5,220.2 L455.8,221.5 L462.0,222.8 L477.0,224.0 L487.0,225.2 L497.0,220.2" stroke="#b4aac8" stroke-width="1" shape-rendering="crispEdges" fill="none"/><path d="M436.4,241.5 L443.7,244.4 L452.4,244.4 L459.7,245.9 L461.6,248.8 L463.0,251.7 L468.9,254.6 L477.6,250.2" stroke="#b4aac8" stroke-width="1" shape-rendering="crispEdges" fill="none"/><path d="M426.2,224.0 L434.9,226.9" stroke="#b4aac8" stroke-width="1" shape-rendering="crispEdges" fill="none"/><path d="M463.0,224.0 L464.5,227.0" stroke="#b4aac8" stroke-width="1" shape-rendering="crispEdges" fill="none"/><path d="M479.0,224.0 L483.4,227.0 L483.4,231.3 L490.7,231.3 L497.0,232.0" stroke="#b4aac8" stroke-width="1" shape-rendering="crispEdges" fill="none"/><path d="M378.0,274.0 L376.8,279.0 L373.0,284.0 L368.0,289.0 L363.0,292.8 L360.5,299.0 L358.0,306.5 L358.0,314.0 L355.5,317.8 L350.5,321.5 L343.0,326.5" stroke="#b4aac8" stroke-width="1" shape-rendering="crispEdges" fill="none"/><path d="M399.2,274.0 L398.0,279.0 L400.5,284.0 L401.8,290.2" stroke="#b4aac8" stroke-width="1" shape-rendering="crispEdges" fill="none"/><path d="M263.0,304.8 L271.1,300.8 L279.2,296.7 L287.4,298.0 L296.8,295.4 L297.5,294.0" stroke="#b4aac8" stroke-width="1" shape-rendering="crispEdges" fill="none"/><path d="M263.0,315.6 L271.1,308.9 L275.2,304.8 L276.5,300.8 L280.6,297.4" stroke="#b4aac8" stroke-width="1" shape-rendering="crispEdges" fill="none"/><path d="M325.2,341.4 L325.2,330.5 L333.4,327.8 L344.2,325.1 L353.0,321.0 L356.0,318.0" stroke="#b4aac8" stroke-width="1" shape-rendering="crispEdges" fill="none"/><path d="M205.5,352.0 L210.5,357.0 L218.0,360.8 L224.2,362.0 L233.0,360.8 L243.0,358.2 L243.0,357.0 L245.5,365.8 L253.0,369.5 L259.2,364.5 L263.0,360.8 L273.0,359.5 L275.5,362.0 L286.8,360.8 L291.8,359.5" stroke="#b4aac8" stroke-width="1" shape-rendering="crispEdges" fill="none"/><path d="M163.0,393.2 L170.5,393.2 L175.5,395.8 L178.0,398.2 L180.5,402.0 L186.8,408.2 L190.5,409.5 L191.8,412.0" stroke="#b4aac8" stroke-width="1" shape-rendering="crispEdges" fill="none"/><path d="M163.0,389.5 L166.8,390.8 L168.0,387.0 L165.5,385.8" stroke="#b4aac8" stroke-width="1" shape-rendering="crispEdges" fill="none"/><path d="M205.5,410.8 L213.0,405.8 L219.2,402.0 L226.8,395.8 L234.2,392.0 L239.2,388.2 L243.0,384.5 L245.5,382.0 L250.5,379.5 L258.0,377.0 L263.0,374.5 L263.0,369.5 L268.0,364.5 L273.0,359.5" stroke="#b4aac8" stroke-width="1" shape-rendering="crispEdges" fill="none"/><path d="M243.0,388.2 L255.5,389.5 L268.0,389.5 L280.5,390.8 L288.0,388.2 L295.5,384.5 L303.0,384.5 L313.0,385.8 L318.0,389.5 L320.5,395.8 L323.0,399.5" stroke="#b4aac8" stroke-width="1" shape-rendering="crispEdges" fill="none"/><path d="M261.8,410.8 L268.0,407.0 L278.0,407.0 L288.0,409.5 L295.5,410.8" stroke="#b4aac8" stroke-width="1" shape-rendering="crispEdges" fill="none"/><path d="M314.2,359.5 L318.0,364.5 L318.0,369.5 L323.0,372.0" stroke="#b4aac8" stroke-width="1" shape-rendering="crispEdges" fill="none"/><path d="M265.5,304.0 L260.5,307.8 L255.5,310.2" stroke="#b4aac8" stroke-width="1" shape-rendering="crispEdges" fill="none"/><path d="M276.8,304.0 L274.2,309.0 L266.8,314.0 L263.0,316.5 L263.0,321.5 L266.8,325.2 L268.0,326.5" stroke="#b4aac8" stroke-width="1" shape-rendering="crispEdges" fill="none"/><path d="M271.8,330.2 L268.0,335.2 L261.8,339.0 L258.0,345.2 L255.5,349.0 L256.8,352.8 L255.5,356.5 L243.0,359.0" stroke="#b4aac8" stroke-width="1" shape-rendering="crispEdges" fill="none"/><path d="M243.0,359.0 L260.5,362.8 L273.0,360.2 L283.0,359.6 L293.0,356.5" stroke="#b4aac8" stroke-width="1" shape-rendering="crispEdges" fill="none"/><path d="M355.7,318.0 L344.0,325.3 L333.8,328.2 L325.0,331.1 L325.0,337.0 L326.5,342.8 L322.2,345.7 L317.8,351.5 L317.8,357.4 L314.9,360.3 L319.2,366.1 L319.2,370.5 L326.5,372.0 L330.9,376.3 L335.3,382.2 L336.8,386.5" stroke="#b4aac8" stroke-width="1" shape-rendering="crispEdges" fill="none"/><path d="M293.0,383.6 L298.8,382.2 L307.6,385.1 L316.3,386.5" stroke="#b4aac8" stroke-width="1" shape-rendering="crispEdges" fill="none"/><path d="M388.0,373.4 L390.9,370.5 L396.8,372.0 L404.0,366.1 L411.3,361.8 L415.7,357.4 L420.1,350.1 L421.5,345.7" stroke="#b4aac8" stroke-width="1" shape-rendering="crispEdges" fill="none"/><path d="M420.1,318.0 L421.5,323.8" stroke="#b4aac8" stroke-width="1" shape-rendering="crispEdges" fill="none"/><path d="M414.1,360.0 L404.7,366.8 L395.2,372.2 L389.8,374.9 L387.1,379.0" stroke="#b4aac8" stroke-width="1" shape-rendering="crispEdges" fill="none"/><path d="M385.7,385.7 L379.0,391.1 L377.6,397.9 L379.0,403.3 L374.9,410.1" stroke="#b4aac8" stroke-width="1" shape-rendering="crispEdges" fill="none"/><path d="M337.0,384.4 L339.7,392.5 L345.1,400.6 L346.5,410.1" stroke="#b4aac8" stroke-width="1" shape-rendering="crispEdges" fill="none"/><path d="M434.9,336.1 L437.8,344.9 L443.7,349.2 L448.0,355.1 L455.3,355.1 L461.2,353.6 L467.0,355.1 L471.8,355.0 L476.2,349.2 L482.0,347.8 L489.3,347.0 L493.6,350.7 L497.0,352.1" stroke="#b4aac8" stroke-width="1" shape-rendering="crispEdges" fill="none"/><path d="M445.8,352.0 L448.2,355.8 L454.5,354.5 L464.5,353.2 L472.0,352.0" stroke="#b4aac8" stroke-width="1" shape-rendering="crispEdges" fill="none"/><path d="M467.0,355.8 L468.2,360.8 L472.0,364.5 L472.0,369.5 L468.2,373.2 L470.8,378.2 L473.2,382.0 L475.8,389.5 L474.5,394.5 L470.8,399.5 L469.5,407.0 L467.0,412.0" stroke="#b4aac8" stroke-width="1" shape-rendering="crispEdges" fill="none"/><path d="M474.5,383.2 L479.5,385.8 L487.0,388.2 L493.2,385.8 L497.0,385.8" stroke="#b4aac8" stroke-width="1" shape-rendering="crispEdges" fill="none"/><path d="M163.0,187.8 L175.5,187.8 L183.8,189.9 L190.1,193.5 L198.4,199.3 L201.0,205.0 L201.5,214.4 L199.5,221.7 L196.3,225.8 L195.8,230.0 L195.3,234.3 L193.2,237.4 L189.0,239.5 L184.9,243.6 L181.8,245.2 L175.0,244.3" stroke="#000" stroke-width="2" shape-rendering="crispEdges" fill="none"/><path d="M181.8,245.2 L179.7,247.8 L181.2,249.9 L178.6,253.0 L173.4,254.6 L169.3,253.0 L166.1,253.5 L163.0,256.0" stroke="#000" stroke-width="2" shape-rendering="crispEdges" fill="none"/><path d="M163.0,257.0 L167.2,257.1 L168.2,262.3 L165.1,265.4 L163.0,266.5" stroke="#000" stroke-width="2" shape-rendering="crispEdges" fill="none"/><path d="M163.0,273.8 L165.1,275.8 L167.2,277.9 L169.3,277.4 L175.5,276.4 L187.0,276.4 L187.0,279.0 L184.9,281.0 L184.9,287.3 L182.8,290.9 L176.5,293.0 L170.3,294.6 L167.2,297.7 L167.2,300.8 L163.0,302.9" stroke="#000" stroke-width="2" shape-rendering="crispEdges" fill="none"/><path d="M191.3,306.7 L198.0,301.7 L206.3,299.2 L218.0,296.7 L229.7,295.8 L231.3,298.3 L233.0,306.7 L236.3,310.0 L241.3,315.0 L243.0,316.7" stroke="#000" stroke-width="2" shape-rendering="crispEdges" fill="none"/><path d="M191.3,306.7 L190.5,315.0 L189.7,325.0 L188.8,335.0 L188.0,340.0 L190.5,343.3 L186.3,343.3 L183.0,348.3 L176.3,353.3 L169.7,356.7 L163.0,359.2" stroke="#000" stroke-width="2" shape-rendering="crispEdges" fill="none"/><path d="M213.0,297.8 L220.5,296.5 L229.2,294.6 L235.5,290.9 L244.2,286.5 L253.0,281.5 L263.0,278.4 L270.5,276.5 L273.0,275.9" stroke="#000" stroke-width="2" shape-rendering="crispEdges" fill="none"/><path d="M230.5,294.6 L231.8,300.2 L232.4,305.2 L235.5,310.2 L240.5,314.0 L245.5,315.2 L248.0,312.1 L253.0,311.5 L256.8,313.4 L259.2,319.0 L259.9,324.0" stroke="#000" stroke-width="2" shape-rendering="crispEdges" fill="none"/><path d="M304.6,234.0 L298.7,239.8 L294.4,244.2 L291.4,244.9 L290.7,251.5 L290.0,253.0 L291.4,260.2 L291.4,267.5 L292.9,271.9 L297.3,277.7 L301.6,282.1 L303.1,285.0" stroke="#000" stroke-width="2" shape-rendering="crispEdges" fill="none"/><path d="M276.9,260.2 L284.2,255.9 L290.0,253.0 L297.3,255.9 L303.1,258.8 L306.0,260.2 L303.1,263.2 L295.8,263.2 L290.0,261.7 L282.7,261.7Z" stroke="#000" stroke-width="2" shape-rendering="crispEdges" fill="none"/><path d="M266.7,269.0 L272.5,266.8 L281.2,267.5 L290.0,269.0 L297.3,270.4 L300.2,273.4 L295.8,274.8 L287.1,274.8 L278.3,273.4 L269.6,271.9Z" stroke="#000" stroke-width="2" shape-rendering="crispEdges" fill="none"/><path d="M272.0,270.0 L285.0,270.5 L293.0,272.0" stroke="#000" stroke-width="2" shape-rendering="crispEdges" fill="none"/><path d="M263.7,279.2 L272.5,277.7 L284.2,277.7 L291.4,279.2 L298.7,280.6 L301.6,282.1 L298.7,285.0 L290.0,283.6 L281.2,283.6 L272.5,285.0 L266.7,285.0 L263.7,282.1Z" stroke="#000" stroke-width="2" shape-rendering="crispEdges" fill="none"/><path d="M270.0,281.0 L285.0,280.5 L296.0,282.0" stroke="#000" stroke-width="2" shape-rendering="crispEdges" fill="none"/><path d="M303.1,274.8 L307.5,273.4 L310.4,274.8" stroke="#000" stroke-width="2" shape-rendering="crispEdges" fill="none"/><path d="M320.0,180.0 L326.7,180.0 L323.3,185.0 L320.0,186.7Z" stroke="#000" stroke-width="2" shape-rendering="crispEdges" fill="none"/><path d="M327.0,174.0 L320.0,180.0" stroke="#000" stroke-width="2" shape-rendering="crispEdges" fill="none"/><path d="M317.8,184.0 L324.0,175.7 L328.2,171.5 L333.5,169.4 L334.5,170.5" stroke="#000" stroke-width="2" shape-rendering="crispEdges" fill="none"/><path d="M335.8,166.6 L344.6,164.4 L353.3,162.2 L366.4,161.5" stroke="#000" stroke-width="2" shape-rendering="crispEdges" fill="none"/><path d="M373.7,161.5 L382.5,159.3" stroke="#000" stroke-width="2" shape-rendering="crispEdges" fill="none"/><path d="M330.0,170.5 L334.0,170.0" stroke="#000" stroke-width="2" shape-rendering="crispEdges" fill="none"/><path d="M319.2,180.0 L317.5,188.3 L315.8,200.0 L314.2,211.7 L311.7,223.3 L305.0,233.3 L296.7,240.0 L293.3,243.3" stroke="#000" stroke-width="2" shape-rendering="crispEdges" fill="none"/><path d="M318.3,188.3 L323.3,191.7 L330.0,191.7 L336.7,186.7 L345.0,181.7" stroke="#000" stroke-width="2" shape-rendering="crispEdges" fill="none"/><path d="M330.0,191.7 L333.3,196.7 L335.0,201.7 L340.0,205.0 L331.7,208.3 L331.7,213.3 L334.2,216.7 L331.7,220.0 L333.3,223.3" stroke="#000" stroke-width="2" shape-rendering="crispEdges" fill="none"/><path d="M340.0,205.0 L346.7,210.0 L355.0,211.7" stroke="#000" stroke-width="2" shape-rendering="crispEdges" fill="none"/><path d="M346.0,176.3 L349.0,171.9 L359.2,167.5 L369.4,164.6 L376.6,163.9 L385.4,161.7 L395.6,159.5 L400.0,158.0 L402.2,161.5" stroke="#000" stroke-width="2" shape-rendering="crispEdges" fill="none"/><path d="M346.0,176.3 L345.0,181.7 L346.7,190.0 L345.0,193.3 L353.3,195.0 L356.7,193.3 L360.0,190.0 L361.7,185.0" stroke="#000" stroke-width="2" shape-rendering="crispEdges" fill="none"/><path d="M344.6,182.1 L341.7,183.6 L335.8,186.5 L330.0,189.4" stroke="#000" stroke-width="2" shape-rendering="crispEdges" fill="none"/><path d="M348.3,190.0 L356.7,191.7" stroke="#000" stroke-width="2" shape-rendering="crispEdges" fill="none"/><path d="M360.0,185.0 L363.3,193.3" stroke="#000" stroke-width="2" shape-rendering="crispEdges" fill="none"/><path d="M365.0,178.5 L365.5,179.5" stroke="#000" stroke-width="2" shape-rendering="crispEdges" fill="none"/><path d="M370.0,173.5 L371.5,179.0" stroke="#000" stroke-width="2" shape-rendering="crispEdges" fill="none"/><path d="M395.5,178.5 L395.8,180.0" stroke="#000" stroke-width="2" shape-rendering="crispEdges" fill="none"/><path d="M353.3,196.7 L353.3,208.3 L356.7,210.0 L363.3,210.0" stroke="#000" stroke-width="2" shape-rendering="crispEdges" fill="none"/><path d="M336.7,221.7 L345.0,215.0 L355.0,211.7 L361.7,211.7 L363.3,216.7 L360.0,220.0 L355.0,221.7 L351.7,226.7 L346.7,229.2 L340.0,226.7 L336.7,223.3Z" stroke="#000" stroke-width="2" shape-rendering="crispEdges" fill="none"/><path d="M331.2,225.7 L335.3,225.7 L340.0,226.7" stroke="#000" stroke-width="2" shape-rendering="crispEdges" fill="none"/><path d="M367.0,202.0 L369.5,208.5" stroke="#000" stroke-width="2" shape-rendering="crispEdges" fill="none"/><path d="M375.2,163.5 L379.6,163.5 L379.6,169.0 L375.2,169.0Z" stroke="#000" stroke-width="2" shape-rendering="crispEdges" fill="none"/><path d="M318.0,212.0 L325.0,215.0" stroke="#000" stroke-width="2" shape-rendering="crispEdges" fill="none"/><path d="M310.5,229.5 L321.7,233.0" stroke="#000" stroke-width="2" shape-rendering="crispEdges" fill="none"/><path d="M326.7,229.0 L330.0,230.0" stroke="#000" stroke-width="2" shape-rendering="crispEdges" fill="none"/><path d="M332.5,227.0 L332.5,235.0" stroke="#000" stroke-width="2" shape-rendering="crispEdges" fill="none"/><path d="M397.0,152.1 L402.2,149.0 L412.6,146.4 L426.2,143.3 L433.5,142.8 L442.8,141.7 L444.9,142.2 L444.9,143.8 L436.6,145.9 L426.2,149.0 L417.8,148.0 L412.6,147.5Z" stroke="#000" stroke-width="2" shape-rendering="crispEdges" fill="none"/><path d="M397.0,159.4 L401.2,161.5 L405.3,165.7 L407.4,168.8 L412.6,169.8 L417.8,169.3 L422.0,169.8 L423.0,171.0" stroke="#000" stroke-width="2" shape-rendering="crispEdges" fill="none"/><path d="M410.5,157.3 L411.6,153.2 L415.8,149.0" stroke="#000" stroke-width="2" shape-rendering="crispEdges" fill="none"/><path d="M397.0,155.2 L399.0,154.2 L402.2,150.0" stroke="#000" stroke-width="2" shape-rendering="crispEdges" fill="none"/><path d="M418.0,162.0 L420.0,164.0" stroke="#000" stroke-width="2" shape-rendering="crispEdges" fill="none"/><path d="M385.4,153.5 L390.0,155.0 L396.0,156.0 L400.0,153.0" stroke="#000" stroke-width="2" shape-rendering="crispEdges" fill="none"/><path d="M469.3,136.7 L466.8,140.2 L465.8,146.5 L466.8,152.8 L467.8,155.9 L466.8,159.0 L465.8,163.2" stroke="#000" stroke-width="2" shape-rendering="crispEdges" fill="none"/><path d="M466.8,154.8 L462.6,153.8 L459.5,152.2 L456.4,152.8 L455.3,154.8 L457.4,156.9 L458.5,159.0 L456.4,161.0 L453.2,162.1 L451.2,160.0 L449.1,158.0 L451.2,154.8 L449.1,151.7 L447.0,148.6 L444.9,143.8" stroke="#000" stroke-width="2" shape-rendering="crispEdges" fill="none"/><path d="M450.0,144.4 L454.0,144.4 L454.0,146.5 L450.0,146.5Z" stroke="#000" stroke-width="2" shape-rendering="crispEdges" fill="none"/><path d="M456.2,74.0 L454.7,79.8 L455.4,88.6 L455.4,93.0 L457.6,95.1 L459.0,93.0" stroke="#000" stroke-width="2" shape-rendering="crispEdges" fill="none"/><path d="M456.2,74.0 L466.4,74.0" stroke="#000" stroke-width="2" shape-rendering="crispEdges" fill="none"/><path d="M457.6,79.8 L466.4,79.8 L466.4,74.0" stroke="#000" stroke-width="2" shape-rendering="crispEdges" fill="none"/><path d="M466.4,74.0 L469.3,82.8 L472.2,88.6 L476.6,94.4 L481.0,98.8 L483.1,101.7 L482.4,104.6 L478.0,106.0 L473.6,107.5 L469.3,109.0 L467.1,111.9 L469.3,114.1 L473.6,113.4 L478.0,114.1 L481.0,112.6 L477.3,116.3 L476.6,122.1 L481.0,123.6 L483.9,126.5 L481.0,129.4 L478.0,130.9 L479.5,133.8 L483.9,135.2 L489.7,136.7 L497.0,136.7" stroke="#000" stroke-width="2" shape-rendering="crispEdges" fill="none"/><path d="M457.6,89.0 L462.0,87.0 L467.8,89.0 L462.0,91.5Z" stroke="#000" stroke-width="2" shape-rendering="crispEdges" fill="none"/><path d="M460.5,93.0 L462.0,97.3 L462.0,104.6 L463.5,106.0" stroke="#000" stroke-width="2" shape-rendering="crispEdges" fill="none"/><path d="M466.5,100.2 L469.3,97.5 L472.0,100.2 L469.3,103.0Z" stroke="#000" stroke-width="2" shape-rendering="crispEdges" fill="none"/><path d="M475.0,98.8 L480.0,100.0 L482.4,104.0 L478.0,106.0 L475.0,102.0Z" stroke="#000" stroke-width="2" shape-rendering="crispEdges" fill="none"/><path d="M466.4,93.0 L470.8,95.9 L475.0,97.3" stroke="#000" stroke-width="2" shape-rendering="crispEdges" fill="none"/><path d="M471.5,120.7 L472.5,126.5" stroke="#000" stroke-width="2" shape-rendering="crispEdges" fill="none"/><path d="M462.0,132.3 L464.9,133.8" stroke="#000" stroke-width="2" shape-rendering="crispEdges" fill="none"/><path d="M469.3,136.7 L473.6,135.2 L479.5,136.7 L488.2,138.2 L497.0,138.2" stroke="#000" stroke-width="2" shape-rendering="crispEdges" fill="none"/><path d="M470.8,76.9 L478.0,78.4 L488.2,79.8 L492.6,82.8 L497.0,81.3" stroke="#000" stroke-width="2" shape-rendering="crispEdges" fill="none"/><path d="M343.0,227.8 L348.0,229.0 L353.0,226.5 L355.5,224.0" stroke="#000" stroke-width="2" shape-rendering="crispEdges" fill="none"/><path d="M417.0,171.5 L417.0,176.5 L415.8,182.8 L417.0,187.8 L414.5,191.5 L412.0,195.2 L410.8,200.2 L409.5,206.5 L398.2,206.5 L397.0,212.8 L398.2,217.8 L408.2,219.0 L410.8,221.5 L412.0,224.0 L411.6,224.0 L410.1,229.8 L405.8,234.2 L399.9,237.1 L398.5,240.0 L402.8,243.0 L401.4,247.3 L398.0,247.8 L391.8,249.0 L386.8,251.5 L380.5,250.9 L375.5,249.6 L373.0,250.9 L369.2,252.8 L368.0,255.2 L369.2,259.0 L371.8,262.8 L375.5,266.5 L378.0,270.2 L378.6,274.0 L379.2,279.0 L375.5,284.0 L373.0,287.8 L376.8,289.0 L375.5,291.5 L369.2,296.5 L365.5,297.8 L366.8,300.2 L371.8,301.5 L373.0,305.2 L373.0,307.8 L370.5,310.2 L370.5,314.0 L375.5,316.5 L379.2,320.2 L380.5,322.8 L380.5,326.5 L385.5,329.0 L386.1,334.0" stroke="#000" stroke-width="2" shape-rendering="crispEdges" fill="none"/><path d="M403.2,164.0 L405.8,167.8 L410.8,169.0 L412.0,171.5 L415.8,171.5 L418.2,169.0 L422.0,169.0" stroke="#000" stroke-width="2" shape-rendering="crispEdges" fill="none"/><path d="M377.0,169.0 L380.8,166.5 L384.5,164.0" stroke="#000" stroke-width="2" shape-rendering="crispEdges" fill="none"/><path d="M396.0,178.5 L396.5,179.5" stroke="#000" stroke-width="2" shape-rendering="crispEdges" fill="none"/><path d="M461.5,212.0 L462.5,213.5" stroke="#000" stroke-width="2" shape-rendering="crispEdges" fill="none"/><path d="M452.4,271.5 L458.2,271.5" stroke="#000" stroke-width="2" shape-rendering="crispEdges" fill="none"/><path d="M303.0,279.0 L305.5,274.0 L310.5,272.8 L313.0,275.2 L316.8,274.0 L320.5,271.5 L323.0,274.0 L325.5,276.5 L329.2,274.0 L331.8,272.8 L333.0,276.5 L335.5,280.2 L339.2,284.0 L343.0,285.2 L351.8,284.0 L354.2,287.8 L359.2,290.2 L363.0,291.5 L363.0,295.2 L360.5,299.0 L359.2,304.0 L356.8,307.8 L358.0,311.5 L364.2,312.8 L370.5,314.0" stroke="#000" stroke-width="2" shape-rendering="crispEdges" fill="none"/><path d="M259.9,324.0 L261.8,327.8 L268.0,326.5 L274.2,329.0 L275.5,334.0 L276.8,339.0 L280.5,336.5 L286.8,337.8 L290.5,336.5 L295.5,340.2 L296.8,346.5 L295.5,349.0 L296.8,351.5 L295.5,355.2 L294.2,356.5 L293.0,357.4 L301.8,357.4 L309.0,360.3 L314.9,357.4 L317.8,355.9 L316.3,351.5 L320.7,347.2 L323.6,345.7 L325.0,348.6 L323.6,353.0 L322.2,357.4 L323.6,361.8 L323.6,367.6 L330.9,369.0 L335.3,372.0 L341.1,373.4 L343.8,376.2 L347.8,380.3 L350.5,383.7 L357.3,381.7 L364.1,380.3 L365.4,377.6 L365.4,370.8 L361.4,365.4 L361.8,367.6" stroke="#000" stroke-width="2" shape-rendering="crispEdges" fill="none"/><path d="M366.1,380.7 L364.7,373.4 L361.8,367.6 L360.3,361.8 L363.2,355.9 L366.1,350.1 L372.0,345.7 L376.3,347.2" stroke="#000" stroke-width="2" shape-rendering="crispEdges" fill="none"/><path d="M377.8,318.0 L379.2,322.4 L383.6,328.2 L385.1,332.6 L386.5,337.0 L383.6,341.3 L379.2,344.2 L376.3,347.2 L376.3,351.5 L377.8,357.4 L382.2,361.8 L388.0,366.1 L392.4,367.6 L392.4,372.0 L388.4,374.9 L387.1,379.0 L387.1,384.4" stroke="#000" stroke-width="2" shape-rendering="crispEdges" fill="none"/><path d="M364.1,383.0 L370.8,387.0 L377.6,384.4 L384.4,384.4 L387.1,385.7 L391.1,385.7 L395.2,391.1 L397.9,396.5 L403.3,402.0 L407.4,399.2 L411.4,400.6 L415.5,403.3 L420.9,403.3 L425.8,404.5 L430.8,402.0 L434.5,403.2 L437.0,407.0 L442.0,408.2 L450.8,408.2 L455.8,410.8 L459.5,412.0" stroke="#000" stroke-width="2" shape-rendering="crispEdges" fill="none"/><path d="M386.1,334.0 L385.1,332.6" stroke="#000" stroke-width="2" shape-rendering="crispEdges" fill="none"/><path d="M163.0,358.2 L169.2,357.6 L175.5,354.5 L180.5,352.0" stroke="#000" stroke-width="2" shape-rendering="crispEdges" fill="none"/></g><rect x="159" y="70" width="342" height="4" fill="#000"/><rect x="159" y="412" width="342" height="4" fill="#000"/><rect x="159" y="70" width="4" height="346" fill="#000"/><rect x="497" y="70" width="4" height="346" fill="#000"/><rect x="160" y="71" width="56" height="2" fill="#fff"/><rect x="293" y="71" width="74" height="2" fill="#fff"/><rect x="444" y="71" width="56" height="2" fill="#fff"/><rect x="160" y="413" width="44" height="2" fill="#fff"/><rect x="288" y="413" width="84" height="2" fill="#fff"/><rect x="456" y="413" width="44" height="2" fill="#fff"/><rect x="160" y="130" width="2" height="112" fill="#fff"/><rect x="160" y="355" width="2" height="60" fill="#fff"/><rect x="498" y="130" width="2" height="112" fill="#fff"/><rect x="498" y="355" width="2" height="60" fill="#fff"/></svg><div class="t" style="left:216.5px;top:63px;font-size:14px;transform:translate(-50%,-50%) rotate(0deg);-webkit-text-stroke:0.35px #000">2</div><div class="t" style="left:291.5px;top:63px;font-size:14px;transform:translate(-50%,-50%) rotate(0deg);-webkit-text-stroke:0.35px #000">4</div><div class="t" style="left:368px;top:63px;font-size:14px;transform:translate(-50%,-50%) rotate(0deg);-webkit-text-stroke:0.35px #000">6</div><div class="t" style="left:444px;top:63px;font-size:14px;transform:translate(-50%,-50%) rotate(0deg);-webkit-text-stroke:0.35px #000">8</div><div class="t" style="left:204.5px;top:422px;font-size:14px;transform:translate(-50%,-50%) rotate(0deg);-webkit-text-stroke:0.35px #000">2</div><div class="t" style="left:287.5px;top:422px;font-size:14px;transform:translate(-50%,-50%) rotate(0deg);-webkit-text-stroke:0.35px #000">4</div><div class="t" style="left:372px;top:422px;font-size:14px;transform:translate(-50%,-50%) rotate(0deg);-webkit-text-stroke:0.35px #000">6</div><div class="t" style="left:456px;top:422px;font-size:14px;transform:translate(-50%,-50%) rotate(0deg);-webkit-text-stroke:0.35px #000">8</div><div class="t" style="left:152px;top:129px;font-size:14px;transform:translate(-50%,-50%) rotate(-90deg);-webkit-text-stroke:0.35px #000">54</div><div class="t" style="left:508px;top:129px;font-size:14px;transform:translate(-50%,-50%) rotate(90deg);-webkit-text-stroke:0.35px #000">54</div><div class="t" style="left:152px;top:241.5px;font-size:14px;transform:translate(-50%,-50%) rotate(-90deg);-webkit-text-stroke:0.35px #000">52</div><div class="t" style="left:508px;top:241.5px;font-size:14px;transform:translate(-50%,-50%) rotate(90deg);-webkit-text-stroke:0.35px #000">52</div><div class="t" style="left:152px;top:354px;font-size:14px;transform:translate(-50%,-50%) rotate(-90deg);-webkit-text-stroke:0.35px #000">50</div><div class="t" style="left:508px;top:354px;font-size:14px;transform:translate(-50%,-50%) rotate(90deg);-webkit-text-stroke:0.35px #000">50</div><div style="position:absolute;left:8px;top:442px;width:643px;height:15px;background:linear-gradient(to right,rgb(0,0,0) 0.000%,rgb(0,0,255) 14.286%,rgb(0,255,255) 28.571%,rgb(0,255,0) 42.857%,rgb(255,255,0) 57.143%,rgb(255,0,0) 71.429%,rgb(255,0,255) 85.714%,rgb(255,255,255) 100.000%)"></div><div class="t" style="left:9.0px;top:468.5px;font-size:18px;transform:translate(-50%,-50%) rotate(0deg);-webkit-text-stroke:0.35px #000">0</div><div class="t" style="left:73.23px;top:468.5px;font-size:18px;transform:translate(-50%,-50%) rotate(0deg);-webkit-text-stroke:0.35px #000">1</div><div class="t" style="left:137.46px;top:468.5px;font-size:18px;transform:translate(-50%,-50%) rotate(0deg);-webkit-text-stroke:0.35px #000">2</div><div class="t" style="left:201.69px;top:468.5px;font-size:18px;transform:translate(-50%,-50%) rotate(0deg);-webkit-text-stroke:0.35px #000">3</div><div class="t" style="left:265.92px;top:468.5px;font-size:18px;transform:translate(-50%,-50%) rotate(0deg);-webkit-text-stroke:0.35px #000">4</div><div class="t" style="left:330.15000000000003px;top:468.5px;font-size:18px;transform:translate(-50%,-50%) rotate(0deg);-webkit-text-stroke:0.35px #000">5</div><div class="t" style="left:394.38px;top:468.5px;font-size:18px;transform:translate(-50%,-50%) rotate(0deg);-webkit-text-stroke:0.35px #000">6</div><div class="t" style="left:458.61px;top:468.5px;font-size:18px;transform:translate(-50%,-50%) rotate(0deg);-webkit-text-stroke:0.35px #000">7</div><div class="t" style="left:522.84px;top:468.5px;font-size:18px;transform:translate(-50%,-50%) rotate(0deg);-webkit-text-stroke:0.35px #000">8</div><div class="t" style="left:587.07px;top:468.5px;font-size:18px;transform:translate(-50%,-50%) rotate(0deg);-webkit-text-stroke:0.35px #000">9</div><div class="t" style="left:651.3000000000001px;top:468.5px;font-size:18px;transform:translate(-50%,-50%) rotate(0deg);-webkit-text-stroke:0.35px #000">10</div></body></html>
